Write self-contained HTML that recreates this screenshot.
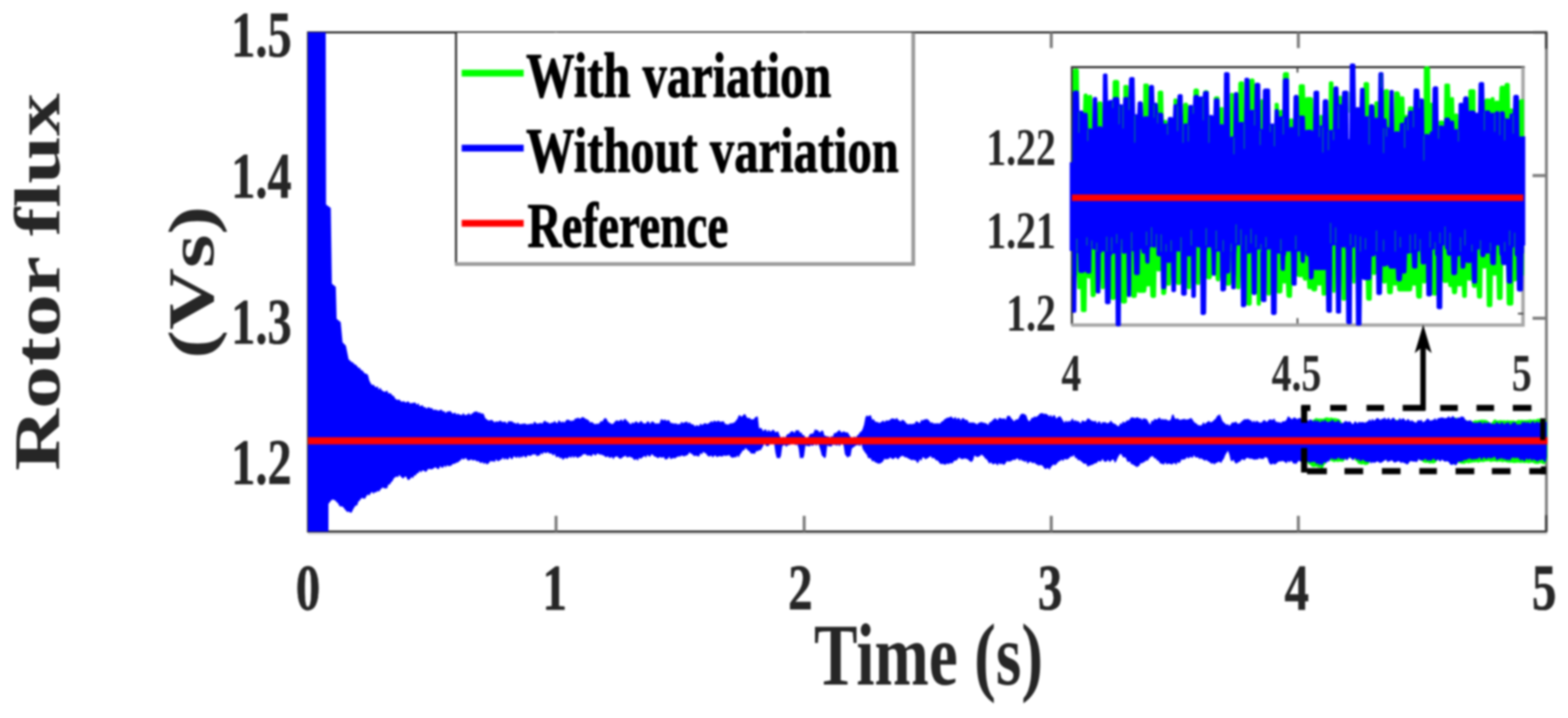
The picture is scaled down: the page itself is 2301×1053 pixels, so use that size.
<!DOCTYPE html>
<html lang="en"><head><meta charset="utf-8"><title>Rotor flux</title>
<style>html,body{margin:0;padding:0;background:#fff}svg{display:block}</style></head>
<body>
<svg width="2301" height="1053" viewBox="0 0 2301 1053" font-family="'Liberation Serif', 'Times New Roman', Times, serif">
<defs><filter id="soft" x="0" y="0" width="2301" height="1053" filterUnits="userSpaceOnUse" color-interpolation-filters="sRGB"><feGaussianBlur stdDeviation="1.4"/></filter></defs>
<rect width="2301" height="1053" fill="#fff"/>
<g filter="url(#soft)">
<rect width="2301" height="1053" fill="#fff"/>
<g fill="none" stroke-linecap="butt">
<path d="M450.5,47.5 H2270.5 M452.0,47.5 V779.5 M450.5,779.5 H2270.5" stroke="#2a2a2a" stroke-width="3"/>
<path d="M452.0,782.7 H2270.5" stroke="#dcdcdc" stroke-width="3"/>
<path d="M2269.3,47.5 V779.5" stroke="#777" stroke-width="4"/>
<path d="M816,779.5 v-23 M816,47.5 v23 M1180.1,779.5 v-23 M1180.1,47.5 v23 M1542.7,779.5 v-23 M1542.7,47.5 v23 M1905.3,779.5 v-23 M1905.3,47.5 v23 M452.0,257.5 h20 M2269.0,257.5 h-20 M452.0,466.8 h20 M2269.0,466.8 h-20 M452.0,676 h20 M2269.0,676 h-20 " stroke="#7c7c7c" stroke-width="4.4"/>
<path d="M2269.0,47.5 v24 M2270.5,47.5 h-21 M2269.0,779.5 v-24" stroke="#3a3a3a" stroke-width="3.4"/>
</g>
<rect x="669.2" y="48" width="671" height="339.5" fill="#fff"/>
<path d="M669.2,48 V389.5" stroke="#2a2a2a" stroke-width="3" fill="none"/>
<path d="M1340.2,48 V389.7 M668,387.2 H1343" stroke="#9a9a9a" stroke-width="5.5" fill="none"/>
<line x1="677.5" x2="768.5" y1="107.3" y2="107.3" stroke="#00ff00" stroke-width="10"/>
<line x1="677.5" x2="768.5" y1="217.3" y2="217.3" stroke="#0000ff" stroke-width="10"/>
<line x1="677.5" x2="768.5" y1="327.6" y2="327.6" stroke="#ff0000" stroke-width="10"/>
<text transform="translate(772,141.7) scale(0.758,1)" font-size="94" font-weight="bold" fill="#000" text-anchor="start" stroke="#000" stroke-width="1.4" stroke-linejoin="round">With variation</text>
<text transform="translate(772,252) scale(0.758,1)" font-size="94" font-weight="bold" fill="#000" text-anchor="start" stroke="#000" stroke-width="1.4" stroke-linejoin="round">Without variation</text>
<text transform="translate(774,362) scale(0.737,1)" font-size="94" font-weight="bold" fill="#000" text-anchor="start" stroke="#000" stroke-width="1.4" stroke-linejoin="round">Reference</text>
<path d="M1571.5,98.5 H2237.5 M1573.0,98.5 V476.5" stroke="#2a2a2a" stroke-width="3" fill="none"/>
<path d="M2235.0,98.5 V479.0 M1572.0,476.8 H2237.5" stroke="#a6a6a6" stroke-width="5" fill="none"/>
<path d="M1904,474.5 v-8 M1904,98.5 v8 M2235.5,216 h-8 M2235.5,338 h-8 M2235.5,460 h-8" stroke="#444" stroke-width="2.5" fill="none"/>
<path d="M1573.5,215 L1574.2,103 L1575,101.7 L1575.8,101 L1576.5,100.7 L1577.2,100.5 L1580.2,100.5 L1581,100.6 L1581.8,100.9 L1582.5,101.5 L1583.2,102.5 L1584,164.2 L1584.8,163.6 L1585.5,163.3 L1586.2,163.2 L1587,163.1 L1587.8,163.3 L1588.5,163.6 L1589.2,164.1 L1590,139.2 L1590.8,138.1 L1591.5,137.5 L1592.2,137.2 L1593,137 L1593.8,137.1 L1594.5,137.3 L1595.2,137.7 L1596,138.4 L1596.8,140.6 L1597.5,139.8 L1598.2,139.4 L1599,139.2 L1599.8,139.1 L1600.5,139.2 L1601.2,139.4 L1602,139.8 L1602.8,140.6 L1603.5,215 L1609.5,215 L1610.2,151.3 L1611,149.8 L1611.8,149.1 L1612.5,148.7 L1613.2,148.5 L1614.8,148.5 L1615.5,148.7 L1616.2,149 L1617,149.6 L1617.8,150.6 L1618.5,215 L1632,215 L1632.8,119.8 L1633.5,118.4 L1634.2,117.7 L1635,117.4 L1635.8,117.2 L1639.5,117.2 L1640.2,117.4 L1641,117.8 L1641.8,118.4 L1642.5,119.9 L1643.2,215 L1647.8,215 L1648.5,125.9 L1649.2,125.2 L1650,124.7 L1650.8,124.5 L1651.5,124.5 L1653,124.5 L1653.8,124.5 L1654.5,124.8 L1655.2,125.2 L1656,125.9 L1656.8,215 L1677,215 L1677.8,123.8 L1678.5,123.1 L1679.2,122.7 L1680,122.4 L1680.8,122.4 L1683,122.4 L1683.8,122.5 L1684.5,122.8 L1685.2,123.3 L1686,124.2 L1686.8,215 L1698,215 L1698.8,135 L1699.5,133.9 L1700.2,133.3 L1701,133 L1701.8,132.9 L1704,132.8 L1704.8,133 L1705.5,133.3 L1706.2,133.8 L1707,134.8 L1707.8,176.7 L1708.5,176.1 L1709.2,175.8 L1710,175.7 L1710.8,175.7 L1711.5,175.9 L1712.2,176.3 L1713,177.1 L1713.8,215 L1721.2,215 L1722,145.9 L1722.8,145.1 L1723.5,144.6 L1724.2,144.4 L1725,144.3 L1725.8,144.4 L1726.5,144.7 L1727.2,145.3 L1728,146.4 L1728.8,215 L1735.5,215 L1736.2,153 L1737,151.8 L1737.8,151.1 L1738.5,150.8 L1739.2,150.6 L1740.8,150.6 L1741.5,150.8 L1742.2,151.1 L1743,151.7 L1743.8,153 L1744.5,215 L1750.5,215 L1751.2,132.7 L1752,131 L1752.8,130.3 L1753.5,129.9 L1754.2,129.7 L1756.5,129.7 L1757.2,129.9 L1758,130.3 L1758.8,130.9 L1759.5,132.3 L1760.2,215 L1764.8,215 L1765.5,134.8 L1766.2,133.5 L1767,132.9 L1767.8,132.5 L1768.5,132.3 L1770.8,132.3 L1771.5,132.4 L1772.2,132.7 L1773,133.2 L1773.8,134.1 L1774.5,215 L1780.5,215 L1781.2,143.4 L1782,142.3 L1782.8,141.7 L1783.5,141.4 L1784.2,141.2 L1786.5,141.2 L1787.2,141.3 L1788,141.6 L1788.8,142.1 L1789.5,143.1 L1790.2,158 L1791,157.4 L1791.8,157 L1792.5,156.9 L1793.2,156.9 L1794,157.1 L1794.8,157.5 L1795.5,158.2 L1796.2,215 L1804.5,215 L1805.2,137.3 L1806,136.5 L1806.8,136.2 L1807.5,136 L1808.2,136 L1809,136.2 L1809.8,136.6 L1810.5,137.5 L1811.2,215 L1816.5,215 L1817.2,122.1 L1818,120.5 L1818.8,119.9 L1819.5,119.5 L1820.2,119.3 L1822.5,119.3 L1823.2,119.3 L1824,119.6 L1824.8,120 L1825.5,120.8 L1826.2,215 L1833,215 L1833.8,117 L1834.5,116 L1835.2,115.5 L1836,115.2 L1836.8,115.1 L1838.2,115.1 L1839,115.3 L1839.8,115.7 L1840.5,116.4 L1841.2,118.3 L1842,215 L1848.8,215 L1849.5,146.3 L1850.2,145.7 L1851,145.4 L1851.8,145.4 L1852.5,145.6 L1853.2,146.2 L1854,215 L1869.8,215 L1870.5,152.1 L1871.2,151.3 L1872,150.9 L1872.8,150.7 L1873.5,150.6 L1874.2,150.7 L1875,151 L1875.8,151.6 L1876.5,152.6 L1877.2,162.1 L1878,161.5 L1878.8,161.2 L1879.5,161.1 L1881,161.1 L1881.8,161.3 L1882.5,108.8 L1883.2,107 L1884,106.3 L1884.8,105.9 L1885.5,105.7 L1888.5,105.7 L1889.2,105.8 L1890,106.1 L1890.8,106.6 L1891.5,107.5 L1892.2,174.8 L1893,174.2 L1893.8,173.8 L1894.5,173.6 L1895.2,173.6 L1896,173.7 L1896.8,174 L1897.5,174.5 L1898.2,175.4 L1899,215 L1905,215 L1905.8,125.6 L1906.5,124.5 L1907.2,123.9 L1908,123.6 L1908.8,123.4 L1911.8,123.4 L1912.5,123.5 L1913.2,123.7 L1914,124.1 L1914.8,124.9 L1915.5,143.8 L1916.2,143 L1917,142.5 L1917.8,142.3 L1918.5,142.2 L1923.8,142.3 L1924.5,142.4 L1925.2,142.8 L1926,143.4 L1926.8,144.7 L1927.5,215 L1935.8,215 L1936.5,169.3 L1937.2,168.7 L1938,168.4 L1938.8,168.4 L1939.5,168.5 L1940.2,168.8 L1941,169.5 L1941.8,215 L1949.2,215 L1950,120.8 L1950.8,120 L1951.5,119.6 L1952.2,119.3 L1953,119.3 L1953.8,119.3 L1954.5,119.4 L1955.2,119.6 L1956,120.1 L1956.8,121 L1957.5,215 L1963.5,215 L1964.2,141.8 L1965,140.8 L1965.8,140.4 L1966.5,140.2 L1967.2,140.2 L1968,140.4 L1968.8,140.8 L1969.5,141.8 L1970.2,215 L2000.2,215 L2001,122.1 L2001.8,121.2 L2002.5,120.7 L2003.2,120.4 L2004,120.3 L2006.2,120.3 L2007,120.5 L2007.8,120.8 L2008.5,121.4 L2009.2,122.6 L2010,215 L2016,215 L2016.8,150.2 L2017.5,149.3 L2018.2,148.9 L2019,148.6 L2019.8,148.5 L2020.5,148.5 L2021.2,148.6 L2022,148.8 L2022.8,149.3 L2023.5,150.1 L2024.2,215 L2029.5,215 L2030.2,133.5 L2031,132 L2031.8,131.4 L2032.5,131 L2033.2,130.8 L2035.5,130.7 L2036.2,130.8 L2037,131.1 L2037.8,131.5 L2038.5,132.3 L2039.2,215 L2045.2,215 L2046,135.3 L2046.8,134.6 L2047.5,134.2 L2048.2,133.9 L2049,133.9 L2051.2,133.9 L2052,134.1 L2052.8,134.6 L2053.5,135.3 L2054.2,137.3 L2055,142 L2055.8,141.5 L2056.5,141.3 L2057.2,141.2 L2058,141.2 L2058.8,141.3 L2059.5,141.5 L2060.2,142 L2061,142.9 L2061.8,169.1 L2062.5,168.6 L2063.2,168.4 L2064,168.4 L2064.8,168.6 L2065.5,169.1 L2066.2,157.5 L2067,156.6 L2067.8,156.2 L2068.5,155.9 L2069.2,155.8 L2071.5,155.9 L2072.2,156 L2073,156.4 L2073.8,157.1 L2074.5,158.5 L2075.2,215 L2088.8,215 L2089.5,99.4 L2090.2,98.4 L2091,97.8 L2091.8,97.5 L2092.5,97.3 L2095.5,97.3 L2096.2,97.5 L2097,97.9 L2097.8,98.5 L2098.5,99.8 L2099.2,150.9 L2100,150.6 L2100.8,150.6 L2101.5,150.8 L2102.2,151.4 L2103,215 L2110.5,215 L2111.2,178.3 L2112,177.5 L2112.8,177 L2113.5,176.8 L2114.2,176.7 L2116.5,176.8 L2117.2,177 L2118,177.4 L2118.8,178 L2119.5,124.1 L2120.2,123.2 L2121,122.7 L2121.8,122.5 L2122.5,122.4 L2124.8,122.4 L2125.5,122.5 L2126.2,122.7 L2127,123.1 L2127.8,123.9 L2128.5,143.5 L2129.2,142.8 L2130,142.4 L2130.8,142.3 L2131.5,142.3 L2132.2,142.5 L2133,142.9 L2133.8,143.8 L2134.5,167.4 L2135.2,166.8 L2136,166.4 L2136.8,166.3 L2137.5,166.3 L2138.2,166.5 L2139,166.9 L2139.8,167.6 L2140.5,215 L2154,215 L2154.8,133 L2155.5,131.8 L2156.2,131.3 L2157,130.9 L2157.8,130.8 L2162.2,130.8 L2163,130.9 L2163.8,131.2 L2164.5,131.8 L2165.2,132.9 L2166,215 L2177.2,215 L2178,147.7 L2178.8,145.7 L2179.5,145 L2180.2,144.6 L2181,144.4 L2184,144.3 L2184.8,144.4 L2185.5,144.7 L2186.2,145.2 L2187,144.8 L2187.8,143.4 L2188.5,142.8 L2189.2,142.4 L2190,142.3 L2190.8,142.3 L2191.5,142.5 L2192.2,142.8 L2193,143.5 L2193.8,149.1 L2194.5,148.3 L2195.2,147.8 L2196,147.5 L2196.8,147.5 L2197.5,147.5 L2198.2,147.6 L2199,147.8 L2199.8,148.3 L2200.5,128.6 L2201.2,126.9 L2202,126.2 L2202.8,125.8 L2203.5,125.6 L2205,125.5 L2205.8,125.7 L2206.5,126 L2207.2,126.5 L2208,123.7 L2208.8,122.5 L2209.5,121.9 L2210.2,121.5 L2211,121.4 L2212.5,121.4 L2213.2,121.5 L2214,121.9 L2214.8,122.5 L2215.5,123.8 L2216.2,159.5 L2217,159.1 L2217.8,159 L2218.5,159 L2219.2,159.2 L2220,159.8 L2220.8,160.9 L2221.5,215 L2228.2,215 L2229,147.5 L2229.8,146.4 L2230.5,145.8 L2231.2,145.5 L2232,145.4 L2235,145.4 L2235.8,145.4 L2236.5,145.7 L2236.5,404 L2226.8,404 L2226,410.8 L2225.2,412 L2224.5,412.5 L2223.8,412.8 L2223,412.8 L2222.2,412.7 L2221.5,412.3 L2220.8,445.8 L2220,447.2 L2219.2,447.8 L2218.5,448.2 L2217.8,448.3 L2214,448.3 L2213.2,448.1 L2212.5,447.8 L2211.8,447.1 L2211,445.6 L2210.2,388 L2209.5,388.5 L2208.8,388.7 L2208,388.8 L2207.2,388.7 L2206.5,388.4 L2205.8,387.9 L2205,437.7 L2204.2,438.9 L2203.5,439.5 L2202.8,439.8 L2202,440 L2199.8,440 L2199,439.9 L2198.2,439.6 L2197.5,439.1 L2196.8,438.2 L2196,403.3 L2195.2,404 L2194.5,404.3 L2193.8,404.5 L2193,404.5 L2192.2,404.3 L2191.5,403.9 L2190.8,403.2 L2190,448.9 L2189.2,449.7 L2188.5,450.1 L2187.8,450.4 L2187,450.5 L2184.8,450.5 L2184,450.4 L2183.2,450.1 L2182.5,449.7 L2181.8,448.9 L2181,392.7 L2180.2,393.4 L2179.5,393.8 L2178.8,394 L2178,394 L2177.2,393.9 L2176.5,393.5 L2175.8,392.9 L2175,436.1 L2174.2,437 L2173.5,437.5 L2172.8,437.8 L2172,437.9 L2170.5,437.9 L2169.8,437.8 L2169,437.5 L2168.2,437 L2167.5,436.1 L2166.8,421 L2166,421.7 L2165.2,422 L2164.5,422.2 L2163,422.2 L2162.2,422.1 L2161.5,421.8 L2160.8,421.2 L2160,420.1 L2159.2,410.7 L2158.5,411.3 L2157.8,411.6 L2157,411.8 L2155.5,411.8 L2154.8,411.6 L2154,411.2 L2153.2,410.5 L2152.5,435.1 L2151.8,436 L2151,436.5 L2150.2,436.8 L2149.5,436.9 L2148.8,436.9 L2148,436.8 L2147.2,436.6 L2146.5,436.1 L2145.8,435.4 L2145,418.7 L2144.2,419.4 L2143.5,419.9 L2142.8,420.1 L2142,420.2 L2141.2,420.2 L2140.5,420 L2139.8,419.8 L2139,419.3 L2138.2,429 L2137.5,430.4 L2136.8,431.1 L2136,431.4 L2135.2,431.6 L2133.8,431.6 L2133,431.5 L2132.2,431.2 L2131.5,430.6 L2130.8,429.5 L2130,420.5 L2129.2,421 L2128.5,421.2 L2127.8,421.2 L2127,421 L2126.2,420.5 L2125.5,419.5 L2124.8,413.9 L2124,414.5 L2123.2,414.8 L2122.5,414.9 L2119.5,414.9 L2118.8,414.7 L2118,414.4 L2117.2,413.7 L2116.5,412.4 L2115.8,404 L2109.8,404 L2109,431 L2108.2,432.5 L2107.5,433.1 L2106.8,433.5 L2106,433.7 L2104.5,433.7 L2103.8,433.6 L2103,433.3 L2102.2,432.7 L2101.5,431.6 L2100.8,404 L2094,404 L2093.2,413.7 L2092.5,414.9 L2091.8,415.5 L2091,415.8 L2090.2,416 L2089.5,415.9 L2088.8,415.7 L2088,415.3 L2087.2,414.6 L2086.5,436.4 L2085.8,437.2 L2085,437.6 L2084.2,437.8 L2083.5,437.9 L2081.2,437.9 L2080.5,437.7 L2079.8,437.3 L2079,436.6 L2078.2,434.8 L2077.5,418.4 L2076.8,418.8 L2076,419.1 L2075.2,419.1 L2074.5,419 L2073.8,418.7 L2073,418.2 L2072.2,425.3 L2071.5,426.4 L2070.8,427 L2070,427.3 L2069.2,427.5 L2053.5,427.5 L2052.8,427.4 L2052,427.1 L2051.2,426.6 L2050.5,425.7 L2049.8,417.9 L2049,418.6 L2048.2,418.9 L2047.5,419.1 L2046.8,419.1 L2046,418.9 L2045.2,418.5 L2044.5,417.8 L2043.8,430 L2043,430.8 L2042.2,431.3 L2041.5,431.6 L2040.8,431.6 L2038.5,431.6 L2037.8,431.4 L2037,431.1 L2036.2,430.4 L2035.5,429 L2034.8,414.3 L2034,415.1 L2033.2,415.6 L2032.5,415.9 L2031.8,416 L2031,416 L2030.2,415.8 L2029.5,415.5 L2028.8,414.9 L2028,413.8 L2027.2,404 L2020.5,404 L2019.8,401.1 L2019,402.4 L2018.2,403 L2017.5,403.3 L2016.8,403.4 L2016,403.4 L2015.2,403.2 L2014.5,402.8 L2013.8,402 L2013,439.5 L2012.2,440.3 L2011.5,440.8 L2010.8,441 L2010,441 L2007.8,441 L2007,440.8 L2006.2,440.4 L2005.5,439.7 L2004.8,438 L2004,404 L1989.8,404 L1989,414.9 L1988.2,415.5 L1987.5,415.9 L1986.8,416 L1986,415.9 L1985.2,415.6 L1984.5,414.9 L1983.8,404 L1976.2,404 L1975.5,439.4 L1974.8,440.2 L1974,440.7 L1973.2,441 L1972.5,441 L1971.8,441 L1971,441 L1970.2,440.7 L1969.5,440.3 L1968.8,439.4 L1968,404 L1960.5,404 L1959.8,428.5 L1959,429.1 L1958.2,429.5 L1957.5,429.6 L1956.8,429.5 L1956,429.2 L1955.2,428.5 L1954.5,404 L1947,404 L1946.2,432.1 L1945.5,432.9 L1944.8,433.4 L1944,433.6 L1943.2,433.7 L1942.5,433.7 L1941.8,433.7 L1941,433.4 L1940.2,433 L1939.5,432.1 L1938.8,417.8 L1938,418.5 L1937.2,418.9 L1936.5,419.1 L1935.8,419.1 L1935,418.9 L1934.2,418.6 L1933.5,418 L1932.8,425.6 L1932,426.6 L1931.2,427.1 L1930.5,427.4 L1929.8,427.5 L1927.5,427.4 L1926.8,427.3 L1926,426.9 L1925.2,426.3 L1924.5,425.2 L1923.8,423.4 L1923,423.9 L1922.2,424.2 L1921.5,424.3 L1920.8,424.3 L1920,424 L1919.2,423.6 L1918.5,422.7 L1917.8,410.6 L1917,411.3 L1916.2,411.6 L1915.5,411.8 L1914.8,411.8 L1914,411.6 L1913.2,411.2 L1912.5,410.5 L1911.8,408.8 L1911,405.8 L1910.2,406.2 L1909.5,406.5 L1908.8,406.6 L1906.5,406.6 L1905.8,406.5 L1905,406.3 L1904.2,405.8 L1903.5,405 L1902.8,404 L1896.8,404 L1896,435.3 L1895.2,436.1 L1894.5,436.6 L1893.8,436.8 L1893,436.9 L1890.8,436.8 L1890,436.6 L1889.2,436.2 L1888.5,435.5 L1887.8,433.9 L1887,415.2 L1886.2,415.7 L1885.5,415.9 L1884.8,416 L1884,415.9 L1883.2,415.6 L1882.5,415 L1881.8,428.4 L1881,429.5 L1880.2,430.1 L1879.5,430.4 L1878.8,430.6 L1876.5,430.6 L1875.8,430.5 L1875,430.2 L1874.2,429.7 L1873.5,428.7 L1872.8,404 L1866,404 L1865.2,430.9 L1864.5,432.5 L1863.8,433.2 L1863,433.5 L1862.2,433.7 L1861.5,433.7 L1860.8,433.5 L1860,433.2 L1859.2,432.5 L1858.5,431 L1857.8,404 L1851,404 L1850.2,446.6 L1849.5,447.5 L1848.8,448 L1848,448.3 L1847.2,448.4 L1846.5,448.3 L1845.8,448 L1845,447.5 L1844.2,446.6 L1843.5,404 L1837.5,404 L1836.8,446.3 L1836,447.3 L1835.2,447.9 L1834.5,448.2 L1833.8,448.4 L1832.2,448.4 L1831.5,448.3 L1830.8,448 L1830,447.6 L1829.2,446.7 L1828.5,404 L1821,404 L1820.2,422.8 L1819.5,423.6 L1818.8,424 L1818,424.3 L1817.2,424.3 L1816.5,424.3 L1815.8,424.1 L1815,423.7 L1814.2,422.9 L1813.5,404 L1807.5,404 L1806.8,416.1 L1806,417.8 L1805.2,418.5 L1804.5,418.9 L1803.8,419.1 L1801.5,419.1 L1800.8,419 L1800,418.6 L1799.2,418.1 L1798.5,416.9 L1797.8,404 L1791,404 L1790.2,411.5 L1789.5,412.2 L1788.8,412.6 L1788,412.8 L1787.2,412.8 L1786.5,412.7 L1785.8,412.3 L1785,411.7 L1784.2,410.4 L1783.5,404 L1779,404 L1778.2,407.3 L1777.5,408.5 L1776.8,409.2 L1776,409.5 L1775.2,409.7 L1773,409.7 L1772.2,409.6 L1771.5,409.3 L1770.8,408.8 L1770,408 L1769.2,404 L1761.8,404 L1761,416.7 L1760.2,417.5 L1759.5,417.8 L1758.8,418 L1758,418 L1757.2,417.9 L1756.5,417.6 L1755.8,416.9 L1755,415.6 L1754.2,404 L1748.2,404 L1747.5,422.9 L1746.8,423.7 L1746,424.1 L1745.2,424.3 L1744.5,424.3 L1743.8,424.2 L1743,423.9 L1742.2,423.3 L1741.5,422.1 L1740.8,404 L1734,404 L1733.2,415.8 L1732.5,417 L1731.8,417.6 L1731,417.9 L1730.2,418 L1728.8,418 L1728,417.9 L1727.2,417.5 L1726.5,416.8 L1725.8,415.5 L1725,404 L1719,404 L1718.2,417.6 L1717.5,418.4 L1716.8,418.8 L1716,419 L1715.2,419.1 L1714.5,419.1 L1713.8,419 L1713,418.7 L1712.2,418.3 L1711.5,429.8 L1710.8,431.4 L1710,432.1 L1709.2,432.5 L1708.5,432.7 L1707,432.7 L1706.2,432.5 L1705.5,432.2 L1704.8,431.7 L1704,430.6 L1703.2,397.1 L1702.5,397.7 L1701.8,398 L1701,398.2 L1699.5,398.2 L1698.8,398 L1698,397.6 L1697.2,397 L1696.5,435 L1695.8,436 L1695,436.5 L1694.2,436.8 L1693.5,436.9 L1691.2,436.9 L1690.5,436.7 L1689.8,436.4 L1689,435.8 L1688.2,434.6 L1687.5,419.2 L1686.8,419.8 L1686,420 L1685.2,420.2 L1684.5,420.1 L1683.8,419.9 L1683,419.4 L1682.2,426.7 L1681.5,428.2 L1680.8,428.9 L1680,429.3 L1679.2,429.5 L1671.8,429.6 L1671,429.5 L1670.2,429.2 L1669.5,428.8 L1668.8,428 L1668,435.5 L1667.2,436.2 L1666.5,436.6 L1665.8,436.8 L1665,436.9 L1662.8,436.9 L1662,436.8 L1661.2,436.5 L1660.5,436 L1659.8,435.1 L1659,404 L1654.5,404 L1653.8,443.2 L1653,444.2 L1652.2,444.8 L1651.5,445.1 L1650.8,445.2 L1647.8,445.2 L1647,445 L1646.2,444.6 L1645.5,444 L1644.8,442.5 L1644,404 L1638,404 L1637.2,437.4 L1636.5,438.8 L1635.8,439.4 L1635,439.8 L1634.2,440 L1632.8,440 L1632,439.8 L1631.2,439.5 L1630.5,438.9 L1629.8,437.8 L1629,404 L1622.2,404 L1621.5,422.1 L1620.8,423.3 L1620,423.9 L1619.2,424.2 L1618.5,424.3 L1617.8,424.3 L1617,424.1 L1616.2,423.7 L1615.5,422.9 L1614.8,404 L1608.8,404 L1608,433.2 L1607.2,434.6 L1606.5,435.2 L1605.8,435.6 L1605,435.8 L1603.5,435.8 L1602.8,435.7 L1602,435.3 L1601.2,434.7 L1600.5,433.6 L1599.8,408 L1599,408.4 L1598.2,408.6 L1597.5,408.6 L1596.8,408.4 L1596,407.9 L1595.2,406.9 L1594.5,456.1 L1593.8,457 L1593,457.4 L1592.2,457.7 L1591.5,457.8 L1589.2,457.8 L1588.5,457.7 L1587.8,457.5 L1587,457 L1586.2,456.2 L1585.5,423.3 L1584.8,423.9 L1584,424.2 L1583.2,424.3 L1582.5,424.2 L1581.8,423.9 L1581,423.2 L1580.2,404 L1573.5,404Z" fill="#00ff00"/>
<path d="M1573.5,204 L1574.2,135.4 L1575,134.1 L1575.8,133.4 L1576.5,133 L1577.2,132.9 L1580.2,132.8 L1581,133 L1581.8,133.3 L1582.5,133.9 L1583.2,134.9 L1584,163.2 L1584.8,162.6 L1585.5,162.3 L1586.2,162.1 L1587,162.1 L1587.8,162.2 L1588.5,162.5 L1589.2,163.1 L1590,164.1 L1590.8,166.3 L1591.5,165.7 L1592.2,165.4 L1593,165.2 L1593.8,165.3 L1594.5,165.5 L1595.2,165.9 L1596,166.7 L1596.8,189.7 L1597.5,188.9 L1598.2,188.5 L1599,188.3 L1599.8,188.2 L1600.5,188.3 L1601.2,188.5 L1602,188.9 L1602.8,189.7 L1603.5,144.8 L1604.2,143.5 L1605,142.8 L1605.8,142.5 L1606.5,142.3 L1607.2,142.2 L1608,142.3 L1608.8,142.6 L1609.5,143.1 L1610.2,144 L1611,186.4 L1611.8,185.7 L1612.5,185.3 L1613.2,185.1 L1614.8,185.1 L1615.5,185.2 L1616.2,185.6 L1617,186.1 L1617.8,187.2 L1618.5,109.5 L1619.2,108.6 L1620,108.1 L1620.8,107.9 L1621.5,107.8 L1622.2,107.8 L1623,107.8 L1623.8,108.1 L1624.5,108.5 L1625.2,109.3 L1626,148.9 L1626.8,147.6 L1627.5,147 L1628.2,146.6 L1629,146.4 L1629.8,146.4 L1630.5,146.5 L1631.2,146.8 L1632,147.3 L1632.8,144.9 L1633.5,143.5 L1634.2,142.8 L1635,142.5 L1635.8,142.3 L1639.5,142.3 L1640.2,142.5 L1641,142.8 L1641.8,143.5 L1642.5,144.9 L1643.2,153.4 L1644,152.9 L1644.8,152.7 L1645.5,152.7 L1646.2,152.9 L1647,153.3 L1647.8,154 L1648.5,143.7 L1649.2,142.9 L1650,142.5 L1650.8,142.3 L1651.5,142.2 L1653,142.2 L1653.8,142.3 L1654.5,142.5 L1655.2,142.9 L1656,143.7 L1656.8,115.7 L1657.5,114.3 L1658.2,113.6 L1659,113.2 L1659.8,113 L1662,113 L1662.8,113.1 L1663.5,113.3 L1664.2,113.8 L1665,114.6 L1665.8,168 L1666.5,167.5 L1667.2,167.3 L1668,167.4 L1668.8,167.7 L1669.5,150.6 L1670.2,149.6 L1671,149 L1671.8,148.7 L1672.5,148.5 L1674,148.5 L1674.8,148.7 L1675.5,149.1 L1676.2,149.8 L1677,151.3 L1677.8,171.9 L1678.5,171.1 L1679.2,170.7 L1680,170.5 L1680.8,170.5 L1683,170.5 L1683.8,170.6 L1684.5,170.8 L1685.2,171.3 L1686,127.2 L1686.8,125.8 L1687.5,125.1 L1688.2,124.7 L1689,124.5 L1690.5,124.5 L1691.2,124.6 L1692,125 L1692.8,125.5 L1693.5,126.6 L1694.2,151.3 L1695,150.8 L1695.8,150.6 L1696.5,150.6 L1697.2,150.8 L1698,151.3 L1698.8,152.2 L1699.5,166.3 L1700.2,165.7 L1701,165.4 L1701.8,165.2 L1704,165.2 L1704.8,165.4 L1705.5,165.7 L1706.2,166.2 L1707,167.2 L1707.8,182 L1708.5,181.4 L1709.2,181 L1710,180.9 L1710.8,180.9 L1711.5,181.1 L1712.2,181.6 L1713,182.3 L1713.8,173 L1714.5,172.2 L1715.2,171.8 L1716,171.6 L1716.8,171.5 L1719,171.5 L1719.8,171.7 L1720.5,172.2 L1721.2,172.9 L1722,154.2 L1722.8,153.4 L1723.5,153 L1724.2,152.7 L1725,152.7 L1725.8,152.8 L1726.5,153.1 L1727.2,153.7 L1728,140.2 L1728.8,139.1 L1729.5,138.5 L1730.2,138.2 L1731,138.1 L1732.5,138.1 L1733.2,138.1 L1734,138.4 L1734.8,138.8 L1735.5,139.6 L1736.2,183.3 L1737,182.1 L1737.8,181.4 L1738.5,181.1 L1739.2,180.9 L1740.8,180.9 L1741.5,181.1 L1742.2,181.4 L1743,182 L1743.8,155.7 L1744.5,154.7 L1745.2,154.2 L1746,153.9 L1746.8,153.7 L1748.2,153.8 L1749,154 L1749.8,154.4 L1750.5,155.1 L1751.2,142.1 L1752,140.4 L1752.8,139.8 L1753.5,139.4 L1754.2,139.2 L1756.5,139.1 L1757.2,139.3 L1758,139.7 L1758.8,140.3 L1759.5,141.7 L1760.2,142 L1761,141.5 L1761.8,141.3 L1762.5,141.2 L1763.2,141.3 L1764,141.6 L1764.8,142.1 L1765.5,135.8 L1766.2,134.5 L1767,133.9 L1767.8,133.6 L1768.5,133.4 L1770.8,133.4 L1771.5,133.5 L1772.2,133.7 L1773,134.2 L1773.8,135.1 L1774.5,169.7 L1775.2,169 L1776,168.6 L1776.8,168.4 L1777.5,168.4 L1778.2,168.5 L1779,168.7 L1779.8,169.2 L1780.5,170 L1781.2,146.6 L1782,145.4 L1782.8,144.8 L1783.5,144.5 L1784.2,144.3 L1786.5,144.3 L1787.2,144.4 L1788,144.7 L1788.8,145.3 L1789.5,146.2 L1790.2,183.1 L1791,182.4 L1791.8,182.1 L1792.5,182 L1793.2,182 L1794,182.2 L1794.8,182.6 L1795.5,183.3 L1796.2,107.2 L1797,106.4 L1797.8,106 L1798.5,105.7 L1799.2,105.7 L1801.5,105.7 L1802.2,105.9 L1803,106.2 L1803.8,106.8 L1804.5,108.1 L1805.2,201.3 L1806,200.6 L1806.8,200.2 L1807.5,200 L1808.2,200.1 L1809,200.3 L1809.8,200.7 L1810.5,137.6 L1811.2,136.2 L1812,135.5 L1812.8,135.1 L1813.5,135 L1814.2,134.9 L1815,135 L1815.8,135.3 L1816.5,135.8 L1817.2,136.7 L1818,180.1 L1818.8,179.4 L1819.5,179 L1820.2,178.8 L1822.5,178.8 L1823.2,178.9 L1824,179.1 L1824.8,179.6 L1825.5,180.4 L1826.2,115.5 L1827,114.7 L1827.8,114.3 L1828.5,114.1 L1829.2,114 L1830.8,114.1 L1831.5,114.2 L1832.2,114.6 L1833,115.2 L1833.8,116.4 L1834.5,162 L1835.2,161.5 L1836,161.2 L1836.8,161.1 L1838.2,161.1 L1839,161.3 L1839.8,161.7 L1840.5,162.4 L1841.2,123 L1842,122.2 L1842.8,121.7 L1843.5,121.4 L1844.2,121.3 L1846.5,121.4 L1847.2,121.6 L1848,121.9 L1848.8,122.6 L1849.5,124 L1850.2,189.6 L1851,189.3 L1851.8,189.3 L1852.5,189.5 L1853.2,132.8 L1854,131.1 L1854.8,130.4 L1855.5,130 L1856.2,129.7 L1860.8,129.7 L1861.5,129.8 L1862.2,130.1 L1863,130.6 L1863.8,131.5 L1864.5,182.1 L1865.2,181.4 L1866,181.1 L1866.8,180.9 L1867.5,180.9 L1868.2,181.1 L1869,181.5 L1869.8,182.2 L1870.5,161.5 L1871.2,160.7 L1872,160.3 L1872.8,160.1 L1873.5,160 L1874.2,160.1 L1875,160.4 L1875.8,161 L1876.5,162 L1877.2,171.5 L1878,170.9 L1878.8,170.6 L1879.5,170.5 L1881,170.5 L1881.8,170.7 L1882.5,117.7 L1883.2,115.9 L1884,115.2 L1884.8,114.8 L1885.5,114.6 L1888.5,114.6 L1889.2,114.7 L1890,115 L1890.8,115.5 L1891.5,116.4 L1892.2,187.3 L1893,186.7 L1893.8,186.3 L1894.5,186.2 L1895.2,186.1 L1896,186.2 L1896.8,186.5 L1897.5,187 L1898.2,141.8 L1899,140.4 L1899.8,139.7 L1900.5,139.3 L1901.2,139.1 L1902.8,139.1 L1903.5,139.3 L1904.2,139.6 L1905,140.2 L1905.8,141.3 L1906.5,170.5 L1907.2,169.9 L1908,169.6 L1908.8,169.4 L1911.8,169.4 L1912.5,169.5 L1913.2,169.7 L1914,170.1 L1914.8,170.9 L1915.5,191.9 L1916.2,191.1 L1917,190.6 L1917.8,190.4 L1918.5,190.3 L1923.8,190.3 L1924.5,190.5 L1925.2,190.8 L1926,191.5 L1926.8,192.7 L1927.5,135.6 L1928.2,134.1 L1929,133.4 L1929.8,133.1 L1930.5,132.9 L1932.8,132.8 L1933.5,132.9 L1934.2,133.2 L1935,133.6 L1935.8,134.4 L1936.5,185 L1937.2,184.4 L1938,184.1 L1938.8,184 L1939.5,184.2 L1940.2,184.5 L1941,148.6 L1941.8,146.7 L1942.5,146 L1943.2,145.6 L1944,145.4 L1946.2,145.4 L1947,145.6 L1947.8,145.9 L1948.5,146.6 L1949.2,147.9 L1950,191.8 L1950.8,191 L1951.5,190.6 L1952.2,190.4 L1953,190.3 L1953.8,190.3 L1954.5,190.4 L1955.2,190.7 L1956,191.2 L1956.8,129.3 L1957.5,127.8 L1958.2,127.2 L1959,126.8 L1959.8,126.6 L1961.2,126.6 L1962,126.7 L1962.8,127 L1963.5,127.6 L1964.2,128.7 L1965,153.4 L1965.8,152.9 L1966.5,152.7 L1967.2,152.7 L1968,152.9 L1968.8,153.4 L1969.5,135 L1970.2,133.9 L1971,133.3 L1971.8,133 L1972.5,132.9 L1975.5,132.8 L1976.2,132.9 L1977,133.1 L1977.8,133.6 L1978.5,134.3 L1979.2,204 L1980,204 L1980.8,94.8 L1981.5,93.9 L1982.2,93.5 L1983,93.2 L1983.8,93.1 L1986,93.1 L1986.8,93.2 L1987.5,93.4 L1988.2,93.9 L1989,94.7 L1989.8,158.2 L1990.5,157.5 L1991.2,157.1 L1992,156.9 L1992.8,156.9 L1993.5,157 L1994.2,157.4 L1995,158 L1995.8,130.5 L1996.5,129.6 L1997.2,129.1 L1998,128.8 L1998.8,128.7 L1999.5,128.7 L2000.2,128.7 L2001,128.9 L2001.8,129.4 L2002.5,130.1 L2003.2,170.6 L2004,170.5 L2006.2,170.5 L2007,170.6 L2007.8,171 L2008.5,171.6 L2009.2,154.7 L2010,153.7 L2010.8,153.1 L2011.5,152.8 L2012.2,152.7 L2013.8,152.7 L2014.5,152.9 L2015.2,153.3 L2016,154 L2016.8,155.7 L2017.5,173.4 L2018.2,172.9 L2019,172.6 L2019.8,172.5 L2020.5,172.5 L2021.2,172.6 L2022,172.9 L2022.8,107.9 L2023.5,106.8 L2024.2,106.2 L2025,105.8 L2025.8,105.7 L2027.2,105.7 L2028,105.7 L2028.8,106 L2029.5,106.4 L2030.2,107.2 L2031,174.4 L2031.8,173.8 L2032.5,173.6 L2033.2,173.6 L2034,173.9 L2034.8,174.5 L2035.5,186.1 L2036.2,186.2 L2037,186.4 L2037.8,186.9 L2038.5,187.7 L2039.2,133.2 L2040,132.5 L2040.8,132.1 L2041.5,131.8 L2042.2,131.8 L2043,131.9 L2043.8,132.1 L2044.5,132.5 L2045.2,133.3 L2046,193.9 L2046.8,193.1 L2047.5,192.7 L2048.2,192.5 L2049,192.4 L2051.2,192.4 L2052,192.7 L2052.8,193.1 L2053.5,193.8 L2054.2,181.5 L2055,180.7 L2055.8,180.2 L2056.5,179.9 L2057.2,179.9 L2058,179.9 L2058.8,179.9 L2059.5,180.2 L2060.2,180.7 L2061,173.8 L2061.8,172.3 L2062.5,171.7 L2063.2,171.5 L2064,171.5 L2064.8,171.7 L2065.5,172.3 L2066.2,163.7 L2067,162.9 L2067.8,162.4 L2068.5,162.2 L2069.2,162.1 L2071.5,162.1 L2072.2,162.3 L2073,162.7 L2073.8,163.3 L2074.5,131.5 L2075.2,130.6 L2076,130.1 L2076.8,129.8 L2077.5,129.7 L2079.8,129.7 L2080.5,129.9 L2081.2,130.2 L2082,130.8 L2082.8,132 L2083.5,145.3 L2084.2,144.8 L2085,144.5 L2085.8,144.3 L2086.5,144.3 L2087.2,144.5 L2088,144.8 L2088.8,145.4 L2089.5,146.5 L2090.2,197.6 L2091,197 L2091.8,196.7 L2092.5,196.6 L2095.5,196.6 L2096.2,196.8 L2097,197.1 L2097.8,197.8 L2098.5,193.4 L2099.2,192.7 L2100,192.4 L2100.8,192.4 L2101.5,192.6 L2102.2,129.9 L2103,128 L2103.8,127.2 L2104.5,126.8 L2105.2,126.6 L2107.5,126.6 L2108.2,126.6 L2109,126.9 L2109.8,127.3 L2110.5,128 L2111.2,185.6 L2112,184.8 L2112.8,184.3 L2113.5,184.1 L2114.2,184 L2116.5,184.1 L2117.2,184.3 L2118,184.7 L2118.8,185.4 L2119.5,174.2 L2120.2,173.4 L2121,172.9 L2121.8,172.6 L2122.5,172.5 L2124.8,172.5 L2125.5,172.6 L2126.2,172.8 L2127,173.3 L2127.8,174 L2128.5,178 L2129.2,177.3 L2130,176.9 L2130.8,176.7 L2131.5,176.8 L2132.2,177 L2133,177.4 L2133.8,178.3 L2134.5,190.4 L2135.2,189.8 L2136,189.4 L2136.8,189.3 L2137.5,189.3 L2138.2,189.5 L2139,189.9 L2139.8,190.6 L2140.5,152.1 L2141.2,151.4 L2142,150.9 L2142.8,150.7 L2143.5,150.6 L2144.2,150.6 L2145,150.7 L2145.8,151 L2146.5,151.5 L2147.2,144 L2148,142.5 L2148.8,141.8 L2149.5,141.4 L2150.2,141.2 L2151.8,141.2 L2152.5,141.3 L2153.2,141.7 L2154,142.2 L2154.8,143.3 L2155.5,163.2 L2156.2,162.6 L2157,162.3 L2157.8,162.1 L2162.2,162.1 L2163,162.3 L2163.8,162.6 L2164.5,163.2 L2165.2,164.3 L2166,165.8 L2166.8,165.4 L2167.5,165.2 L2168.2,165.3 L2169,165.6 L2169.8,123 L2170.5,121.6 L2171.2,120.9 L2172,120.5 L2172.8,120.3 L2175,120.3 L2175.8,120.4 L2176.5,120.6 L2177.2,121.1 L2178,121.9 L2178.8,163.5 L2179.5,162.8 L2180.2,162.4 L2181,162.1 L2184,162.1 L2184.8,162.2 L2185.5,162.5 L2186.2,163 L2187,163.9 L2187.8,166.4 L2188.5,165.7 L2189.2,165.4 L2190,165.2 L2190.8,165.3 L2191.5,165.4 L2192.2,165.8 L2193,166.5 L2193.8,164.7 L2194.5,163.9 L2195.2,163.5 L2196,163.2 L2196.8,163.1 L2197.5,163.1 L2198.2,163.2 L2199,163.5 L2199.8,164 L2200.5,164.8 L2201.2,164.5 L2202,163.8 L2202.8,163.4 L2203.5,163.2 L2205,163.1 L2205.8,163.3 L2206.5,163.6 L2207.2,164.1 L2208,165.1 L2208.8,174.7 L2209.5,174.1 L2210.2,173.8 L2211,173.6 L2212.5,173.6 L2213.2,173.8 L2214,174.1 L2214.8,174.8 L2215.5,167.7 L2216.2,166.9 L2217,166.4 L2217.8,166.3 L2218.5,166.3 L2219.2,166.6 L2220,167.1 L2220.8,141 L2221.5,140 L2222.2,139.5 L2223,139.2 L2223.8,139.1 L2226,139.1 L2226.8,139.3 L2227.5,139.6 L2228.2,140.2 L2229,141.3 L2229.8,201 L2230.5,200.5 L2231.2,200.2 L2232,200 L2235,200 L2235.8,200.1 L2236.5,200.3 L2236.5,371.3 L2235.8,371.7 L2235,425.8 L2234.2,426.6 L2233.5,427.1 L2232.8,427.4 L2232,427.5 L2229,427.5 L2228.2,427.4 L2227.5,427.1 L2226.8,426.6 L2226,425.6 L2225.2,375.9 L2224.5,375.7 L2223.8,375.2 L2223,374.4 L2222.2,362 L2221.5,362.6 L2220.8,362.9 L2220,363 L2219.2,414.4 L2218.5,415.2 L2217.8,415.7 L2217,415.9 L2216.2,416 L2214,415.9 L2213.2,415.7 L2212.5,415.4 L2211.8,414.7 L2211,413.2 L2210.2,387.9 L2209.5,388.4 L2208.8,388.7 L2208,388.8 L2205.8,388.8 L2205,388.6 L2204.2,388.3 L2203.5,387.6 L2202.8,386.4 L2202,375.3 L2201.2,374.6 L2200.5,372.4 L2199.8,359.5 L2199,359.8 L2198.2,360 L2196.8,360 L2196,359.9 L2195.2,387.2 L2194.5,388 L2193.8,388.5 L2193,388.7 L2192.2,388.8 L2190,388.8 L2189.2,388.6 L2188.5,388.2 L2187.8,387.6 L2187,386.1 L2186.2,370.5 L2185.5,371.2 L2184.8,371.7 L2184,371.9 L2183.2,372 L2181.8,372 L2181,371.8 L2180.2,371.4 L2179.5,375.8 L2178.8,376.6 L2178,377 L2177.2,377.2 L2176.5,377.3 L2175.8,377.3 L2175,377.2 L2174.2,376.9 L2173.5,376.4 L2172.8,375.5 L2172,370.5 L2171.2,364.9 L2170.5,365.5 L2169.8,365.8 L2169,366 L2168.2,366 L2167.5,414.4 L2166.8,415.2 L2166,415.7 L2165.2,415.9 L2164.5,416 L2163,416 L2162.2,415.8 L2161.5,415.5 L2160.8,414.9 L2160,413.8 L2159.2,384.6 L2158.5,385.2 L2157.8,385.5 L2157,385.7 L2154,385.7 L2153.2,385.6 L2152.5,385.4 L2151.8,385 L2151,384.2 L2150.2,392.5 L2149.5,393.3 L2148.8,393.7 L2148,394 L2147.2,394 L2146.5,394 L2145.8,393.9 L2145,393.7 L2144.2,393.2 L2143.5,392.3 L2142.8,374.5 L2142,375 L2141.2,375.5 L2140.5,375.9 L2139.8,376 L2139,376 L2138.2,400.7 L2137.5,402.2 L2136.8,402.8 L2136,403.2 L2135.2,403.4 L2133,403.4 L2132.2,403.4 L2131.5,403.1 L2130.8,402.6 L2130,401.8 L2129.2,373.9 L2128.5,374.6 L2127.8,375 L2127,375.2 L2126.2,375.2 L2125.5,375.1 L2124.8,374.7 L2124,374.1 L2123.2,372.7 L2122.5,365.8 L2121.8,365.4 L2121,364.7 L2120.2,363 L2119.5,359.5 L2118.8,359.8 L2118,360 L2117.2,360 L2116.5,451.7 L2115.8,452.7 L2115,453.2 L2114.2,453.5 L2113.5,453.6 L2111.2,453.6 L2110.5,453.4 L2109.8,453.1 L2109,452.5 L2108.2,451.3 L2107.5,375.6 L2106.8,375 L2106,374 L2105.2,365.2 L2104.5,365.7 L2103.8,365.9 L2103,366 L2102.2,366 L2101.5,432.6 L2100.8,433.7 L2100,434.3 L2099.2,434.6 L2098.5,434.8 L2096.2,434.8 L2095.5,434.7 L2094.8,434.4 L2094,433.8 L2093.2,432.9 L2092.5,386.6 L2091.8,387.2 L2091,387.6 L2090.2,387.7 L2088,387.8 L2087.2,387.7 L2086.5,387.4 L2085.8,386.9 L2085,386 L2084.2,370.3 L2083.5,368.1 L2082.8,368.6 L2082,368.9 L2081.2,369 L2080.5,369 L2079.8,392.5 L2079,393.3 L2078.2,393.7 L2077.5,394 L2076.8,394 L2075.2,394 L2074.5,393.9 L2073.8,393.6 L2073,393 L2072.2,391.9 L2071.5,371.8 L2070.8,371.4 L2070,370.8 L2069.2,370.7 L2068.5,371.4 L2067.8,371.8 L2067,372 L2065.5,372 L2064.8,371.9 L2064,398.9 L2063.2,400.2 L2062.5,400.8 L2061.8,401.2 L2061,401.3 L2060.2,401.3 L2059.5,401.2 L2058.8,400.9 L2058,400.4 L2057.2,410.2 L2056.5,411.6 L2055.8,412.3 L2055,412.6 L2054.2,412.8 L2052,412.8 L2051.2,412.6 L2050.5,412.2 L2049.8,411.5 L2049,409.8 L2048.2,393.2 L2047.5,393.7 L2046.8,393.9 L2046,394 L2040.8,394 L2040,393.9 L2039.2,393.5 L2038.5,393 L2037.8,391.8 L2037,388.8 L2036.2,389.4 L2035.5,389.7 L2034.8,389.8 L2034,390.1 L2033.2,390.5 L2032.5,390.8 L2031.8,390.9 L2031,390.9 L2030.2,390.7 L2029.5,390.4 L2028.8,389.8 L2028,430.5 L2027.2,431.6 L2026.5,432.2 L2025.8,432.5 L2025,432.7 L2022.8,432.7 L2022,432.6 L2021.2,432.3 L2020.5,431.7 L2019.8,430.8 L2019,372.4 L2018.2,374.6 L2017.5,375.3 L2016.8,375.7 L2016,375.9 L2015.2,376 L2013.8,376 L2013,375.8 L2012.2,408.8 L2011.5,409.8 L2010.8,410.3 L2010,410.6 L2009.2,410.7 L2001.8,410.7 L2001,410.6 L2000.2,410.3 L1999.5,409.7 L1998.8,408.6 L1998,475.9 L1997.2,476.8 L1996.5,477.3 L1995.8,477.5 L1995,477.6 L1992.8,477.6 L1992,477.6 L1991.2,477.3 L1990.5,476.9 L1989.8,476.2 L1989,363.6 L1988.2,362.4 L1987.5,362.8 L1986.8,363 L1985.2,363 L1984.5,362.9 L1983.8,474 L1983,474.8 L1982.2,475.2 L1981.5,475.5 L1980.8,475.5 L1978.5,475.5 L1977.8,475.3 L1977,474.9 L1976.2,474.2 L1975.5,472.5 L1974.8,367.3 L1974,362.1 L1973.2,362.6 L1972.5,362.9 L1971.8,363 L1970.2,363 L1969.5,362.9 L1968.8,362.5 L1968,458.4 L1967.2,459.2 L1966.5,459.6 L1965.8,459.8 L1965,459.9 L1963.5,459.9 L1962.8,459.8 L1962,459.6 L1961.2,459.2 L1960.5,458.4 L1959.8,358.7 L1959,359.4 L1958.2,359.8 L1957.5,360 L1956,360 L1955.2,359.9 L1954.5,457.3 L1953.8,458.1 L1953,458.5 L1952.2,458.7 L1951.5,458.8 L1949.2,458.8 L1948.5,458.6 L1947.8,458.2 L1947,457.5 L1946.2,455.8 L1945.5,395.3 L1944.8,395.8 L1944,396 L1943.2,396.1 L1930.5,396.1 L1929.8,395.9 L1929,395.5 L1928.2,394.9 L1927.5,407.9 L1926.8,408.8 L1926,409.3 L1925.2,409.6 L1924.5,409.7 L1923.8,409.7 L1923,409.6 L1922.2,409.4 L1921.5,409 L1920.8,408.2 L1920,376 L1919.2,376 L1918.5,375.9 L1917.8,375.6 L1917,375.1 L1916.2,374.1 L1915.5,368.2 L1914.8,384.3 L1914,385 L1913.2,385.4 L1912.5,385.6 L1911.8,385.7 L1911,385.5 L1910.2,385.2 L1909.5,384.6 L1908.8,383.3 L1908,368.3 L1907.2,368.7 L1906.5,368.9 L1905.8,369 L1904.2,369 L1903.5,368.8 L1902.8,417.6 L1902,418.4 L1901.2,418.8 L1900.5,419 L1899.8,419.1 L1898.2,419.1 L1897.5,418.9 L1896.8,418.6 L1896,418 L1895.2,416.8 L1894.5,374.4 L1893.8,368 L1893,368.6 L1892.2,368.9 L1891.5,369 L1890,369 L1889.2,368.9 L1888.5,368.6 L1887.8,368 L1887,374.4 L1886.2,375.2 L1885.5,395.8 L1884.8,396.5 L1884,396.9 L1883.2,397.1 L1882.5,397.2 L1881.8,397 L1881,396.7 L1880.2,396.1 L1879.5,394.8 L1878.8,371.4 L1878,371.8 L1877.2,372 L1875.8,372 L1875,371.9 L1874.2,371.7 L1873.5,459.4 L1872.8,460.7 L1872,461.4 L1871.2,461.7 L1870.5,461.9 L1868.2,461.9 L1867.5,461.9 L1866.8,461.6 L1866,461.1 L1865.2,460.3 L1864.5,365.1 L1863.8,365.6 L1863,365.9 L1862.2,366 L1860.8,366 L1860,365.9 L1859.2,365.5 L1858.5,441.4 L1857.8,442.3 L1857,442.8 L1856.2,443 L1855.5,443.1 L1853.2,443.1 L1852.5,442.9 L1851.8,442.6 L1851,441.9 L1850.2,440.6 L1849.5,365.4 L1848.8,365.8 L1848,366 L1846.5,366 L1845.8,365.9 L1845,365.7 L1844.2,430.1 L1843.5,431.5 L1842.8,432.1 L1842,432.5 L1841.2,432.7 L1839.8,432.7 L1839,432.5 L1838.2,432.2 L1837.5,431.6 L1836.8,430.4 L1836,370.2 L1835.2,371.1 L1834.5,371.6 L1833.8,371.9 L1833,372 L1831.5,372 L1830.8,371.8 L1830,371.5 L1829.2,447.1 L1828.5,449.1 L1827.8,449.8 L1827,450.2 L1826.2,450.4 L1824,450.5 L1823.2,450.4 L1822.5,450.2 L1821.8,449.7 L1821,449 L1820.2,359.4 L1819.5,359.8 L1818.8,360 L1817.2,360 L1816.5,359.9 L1815.8,359.7 L1815,359.2 L1814.2,373.9 L1813.5,422.7 L1812.8,423.5 L1812,424 L1811.2,424.3 L1810.5,424.3 L1809.8,424.3 L1809,424.2 L1808.2,424 L1807.5,423.5 L1806.8,422.7 L1806,359.2 L1805.2,398.4 L1804.5,400 L1803.8,400.7 L1803,401.1 L1802.2,401.3 L1801.5,401.3 L1800.8,401.2 L1800,400.9 L1799.2,425.1 L1798.5,426 L1797.8,426.4 L1797,427 L1796.2,427.3 L1795.5,427.5 L1794,427.5 L1793.2,427.4 L1792.5,427.1 L1791.8,426.7 L1791,425.9 L1790.2,368.8 L1789.5,369 L1788,369 L1787.2,368.9 L1786.5,368.7 L1785.8,368.2 L1785,370 L1784.2,402.8 L1783.5,403.7 L1782.8,404.2 L1782,404.4 L1781.2,404.5 L1780.5,404.4 L1779.8,404.1 L1779,403.6 L1778.2,402.7 L1777.5,370 L1776.8,362.2 L1776,362.7 L1775.2,362.9 L1774.5,363 L1773,363 L1772.2,362.8 L1771.5,362.5 L1770.8,373 L1770,459.1 L1769.2,460.7 L1768.5,461.3 L1767.8,461.7 L1767,461.9 L1764.8,461.9 L1764,461.9 L1763.2,461.6 L1762.5,461.2 L1761.8,460.4 L1761,362.8 L1760.2,363 L1758.8,363 L1758,362.9 L1757.2,362.6 L1756.5,362.2 L1755.8,361.3 L1755,435 L1754.2,436 L1753.5,436.5 L1752.8,436.8 L1752,436.9 L1751.2,436.9 L1750.5,436.8 L1749.8,436.6 L1749,436.2 L1748.2,435.4 L1747.5,375.2 L1746.8,375.7 L1746,375.9 L1745.2,376 L1743.8,376 L1743,375.8 L1742.2,375.4 L1741.5,431.7 L1740.8,432.8 L1740,433.3 L1739.2,433.6 L1738.5,433.7 L1736.2,433.7 L1735.5,433.6 L1734.8,433.3 L1734,432.7 L1733.2,431.6 L1732.5,368.5 L1731.8,368.8 L1731,369 L1729.5,369 L1728.8,368.9 L1728,368.6 L1727.2,368.1 L1726.5,370.2 L1725.8,426.7 L1725,427.6 L1724.2,428.1 L1723.5,428.4 L1722.8,428.5 L1722,428.5 L1721.2,428.5 L1720.5,428.2 L1719.8,427.8 L1719,427.1 L1718.2,384.1 L1717.5,384.9 L1716.8,385.4 L1716,385.6 L1715.2,385.7 L1714.5,385.7 L1713.8,385.6 L1713,385.3 L1712.2,384.8 L1711.5,421.5 L1710.8,423 L1710,423.7 L1709.2,424.1 L1708.5,424.3 L1707,424.3 L1706.2,424.2 L1705.5,423.9 L1704.8,423.3 L1704,422.3 L1703.2,375.5 L1702.5,375.9 L1701.8,376 L1700.2,376 L1699.5,375.9 L1698.8,375.6 L1698,375.1 L1697.2,374.1 L1696.5,362.2 L1695.8,362.6 L1695,362.9 L1694.2,363 L1692.8,363 L1692,362.8 L1691.2,362.5 L1690.5,361.9 L1689.8,361.6 L1689,362.3 L1688.2,362.7 L1687.5,362.9 L1686.8,384.8 L1686,385.9 L1685.2,386.4 L1684.5,386.7 L1683.8,386.7 L1683,386.6 L1682.2,386.3 L1681.5,385.7 L1680.8,384.2 L1680,372 L1678.5,372 L1677.8,371.9 L1677,371.7 L1676.2,371.2 L1675.5,370.4 L1674.8,365 L1674,365.6 L1673.2,365.9 L1672.5,401.5 L1671.8,402.5 L1671,403 L1670.2,403.3 L1669.5,403.4 L1667.2,403.4 L1666.5,403.3 L1665.8,402.9 L1665,402.4 L1664.2,401.3 L1663.5,369 L1662.8,368.8 L1662,368.5 L1661.2,367.8 L1660.5,366.6 L1659.8,433.5 L1659,434.8 L1658.2,435.4 L1657.5,435.7 L1656.8,435.8 L1656,435.8 L1655.2,435.5 L1654.5,435 L1653.8,433.9 L1653,370.9 L1652.2,371.5 L1651.5,371.8 L1650.8,372 L1649.2,372 L1648.5,371.9 L1647.8,371.6 L1647,371.2 L1646.2,370.3 L1645.5,359.1 L1644.8,476.9 L1644,477.8 L1643.2,478.3 L1642.5,478.6 L1641.8,478.7 L1640.2,478.7 L1639.5,478.6 L1638.8,478.3 L1638,477.8 L1637.2,476.8 L1636.5,371.9 L1635.8,372 L1634.2,372 L1633.5,371.8 L1632.8,371.4 L1632,373.2 L1631.2,374.7 L1630.5,375.4 L1629.8,444.2 L1629,445.2 L1628.2,445.8 L1627.5,446.1 L1626.8,446.3 L1624.5,446.3 L1623.8,446.1 L1623,445.8 L1622.2,445.3 L1621.5,444.3 L1620.8,369 L1620,369 L1619.2,368.9 L1618.5,368.6 L1617.8,368.1 L1617,370.2 L1616.2,371.1 L1615.5,371.6 L1614.8,429.1 L1614,429.9 L1613.2,430.3 L1612.5,430.5 L1611.8,430.6 L1611,430.6 L1610.2,430.5 L1609.5,430.2 L1608.8,429.7 L1608,428.8 L1607.2,365.9 L1606.5,366 L1605,366 L1604.2,365.8 L1603.5,365.4 L1602.8,364.7 L1602,363.2 L1601.2,399.8 L1600.5,400.6 L1599.8,401 L1599,401.3 L1598.2,401.3 L1596,401.3 L1595.2,401.1 L1594.5,400.7 L1593.8,400.1 L1593,398.5 L1592.2,397.9 L1591.5,399.2 L1590.8,399.8 L1590,400.1 L1589.2,400.3 L1585.5,400.3 L1584.8,400.2 L1584,400 L1583.2,399.5 L1582.5,398.6 L1581.8,371.5 L1581,370.9 L1580.2,369.7 L1579.5,456.9 L1578.8,457.9 L1578,458.4 L1577.2,458.7 L1576.5,458.8 L1573.5,458.8Z" fill="#0000ff"/>
<path d="M1583.3,164.1 V194.8 M1596.3,190.2 V206.7 M1632.9,148.4 V158.5 M1642.3,154.7 V182.3 M1648.1,154.7 V188.5 M1656.7,144.2 V161.2 M1665.3,169.3 V209.2 M1693.5,152.6 V172.5 M1698.7,167.2 V180.7 M1713.4,182.9 V197.5 M1728,154.7 V192.5 M1736.1,182.9 V209.5 M1743.7,182.9 V207.4 M1751.2,155.7 V166.8 M1765.6,143.2 V176.6 M1774,170.4 V209.4 M1810.7,202 V226.3 M1825.8,180.8 V218.5 M1841,163 V184 M1849.3,191.3 V212.8 M1864,182.9 V193.7 M1870.2,182.9 V214.4 M1883.3,172.5 V197.2 M1905.8,171.4 V199.7 M1936.1,186 V201.1 M1941.3,186 V223.8 M1949.4,192.3 V220.2 M1957,192.3 V205.4 M1964.3,154.7 V189.1 M1979.7,134.8 V165.3 M2009.2,172.5 V212.1 M2027.1,107.7 V128.9 M2030.4,188.1 V224.4 M2034.7,188.1 V200.2 M2061.3,181.9 V217 M2066,173.5 V191.2 M2074.3,164.1 V186.7 M2082.7,146.3 V158.4 M2089.5,198.6 V235.5 M2110.9,186 V203.6 M2140.2,191.3 V207.6 M2178.3,164.1 V191.5 M2193.4,167.2 V193.3 M2200.8,165.1 V198.2 M2208.1,175.6 V206.1 M2220.6,168.3 V196.1 M1580.3,369 V350.1 M1594.9,360 V347.9 M1602.2,363 V352.4 M1609.5,369 V355.9 M1624.1,369 V347.1 M1631.4,369 V348.1 M1638.7,357 V343.3 M1646,369 V350.7 M1660.6,366 V340.4 M1682.5,360 V339.8 M1689.8,360 V333.2 M1697.1,369 V343.3 M1704,369 V343.7 M1711.3,369 V358.1 M1718.6,369 V352.2 M1733.2,369 V347.9 M1748.2,360 V336.8 M1770.1,360 V334.6 M1784.7,366 V338.1 M1795,369 V352 M1806.6,369 V357.3 M1813.9,357 V329.1 M1821.2,360 V336.3 M1828.5,369 V344.8 M1835.8,357 V335.6 M1843.1,363 V344.2 M1850.4,369 V357.9 M1857.7,363 V347.6 M1879.6,369 V350.5 M1901.5,366 V345.4 M1952.6,357 V326.8 M1959.9,357 V333.5 M1981.8,360 V343.1 M1989.1,363 V344.4 M1996.4,369 V346.8 M2003.7,366 V349.3 M2020,369 V338 M2030.4,369 V351.6 M2047.5,369 V338.1 M2054.8,363 V347.4 M2069.4,369 V344 M2076.7,366 V342.8 M2084,369 V350.7 M2098.6,363 V339.4 M2105.9,369 V355.2 M2113.2,357 V341 M2120.5,363 V331.9 M2127.8,369 V341.2 M2143.3,369 V348 M2149.7,360 V336.6 M2160,369 V358.8 M2172.5,369 V352.2 M2187.2,369 V356 M2208.1,369 V354.9 M2215.4,360 V337.9 M2222.7,369 V341.3 " stroke="#00b050" stroke-width="1.5" fill="none" opacity="0.7"/>
<rect x="1569.8" y="238" width="8" height="130" fill="#0000ff"/>
<rect x="2230" y="200" width="8.3" height="160" fill="#0000ff"/>
<line x1="1573.0" x2="2235.5" y1="290.0" y2="290.0" stroke="#ff0000" stroke-width="9.5"/>
<path d="M1913,617.9 L1915,617.5 L1917,616.7 L1919,618.6 L1921,617.6 L1923,617.3 L1925,619.2 L1927,615 L1929,615 L1931,612.7 L1933,613.5 L1935,613.9 L1937,613.8 L1939,613.9 L1941,614.1 L1943,613.7 L1945,612.3 L1947,612.2 L1949,612.3 L1951,613.2 L1953,612.2 L1955,612.8 L1957,613.4 L1959,613.1 L1961,613.7 L1963,613.9 L1965,614.8 L1967,616.1 L1969,620.2 L1971,620.8 L1973,621.1 L1975,621.1 L1977,620.6 L1979,620.8 L1981,621.3 L1983,622.9 L1985,622.5 L1987,622.3 L1989,620.5 L1991,620.3 L1993,621.3 L1995,621.4 L1997,620.6 L1999,620.9 L2001,619.9 L2003,620.3 L2005,618.9 L2007,618.8 L2009,618.9 L2011,618.8 L2013,617.2 L2015,618 L2017,617.9 L2019,616.8 L2021,617 L2023,615.7 L2025,615.6 L2027,616.3 L2029,615.5 L2031,616.3 L2033,615.8 L2035,614.8 L2037,616.5 L2039,615.6 L2041,616.1 L2043,615 L2045,616.4 L2047,615.6 L2049,615.8 L2051,615.9 L2053,615.5 L2055,615.4 L2057,616 L2059,616.2 L2061,616.3 L2063,617.4 L2065,617.6 L2067,618.9 L2069,618.8 L2071,619.3 L2073,618.2 L2075,619.9 L2077,620 L2079,619.5 L2081,619.6 L2083,620.2 L2085,618.7 L2087,619.7 L2089,618.7 L2091,619.2 L2093,618.9 L2095,617.3 L2097,617.6 L2099,618.2 L2101,616.4 L2103,617.2 L2105,616.8 L2107,615.7 L2109,616.7 L2111,616.4 L2113,614.8 L2115,614.5 L2117,614.3 L2119,614.5 L2121,613.2 L2123,613.8 L2125,613.5 L2127,613.7 L2129,612.4 L2131,612.7 L2133,611.8 L2135,612.5 L2137,612.3 L2139,614.4 L2141,614.3 L2143,614.7 L2145,613.7 L2147,615.4 L2149,615.4 L2151,616.3 L2153,616.4 L2155,617.4 L2157,618.4 L2159,619.3 L2161,617.9 L2163,617.2 L2165,615.9 L2167,616.9 L2169,616.2 L2171,615.9 L2173,615.8 L2175,615.5 L2177,615.7 L2179,615.8 L2181,616.1 L2183,617.1 L2185,618.6 L2187,622 L2189,619.5 L2191,617.5 L2193,615 L2195,615.5 L2197,617 L2199,616.4 L2201,616.6 L2203,616 L2205,617.1 L2207,616.1 L2209,617 L2211,616.5 L2213,616.2 L2215,617 L2217,616.4 L2219,616.9 L2221,616.3 L2223,617.4 L2225,617.5 L2227,616.3 L2229,615.4 L2231,616.4 L2233,615.4 L2235,616.3 L2237,616.1 L2239,616.3 L2241,615.7 L2243,616 L2245,614.9 L2247,615.6 L2249,615.7 L2251,614.9 L2253,615.7 L2255,615 L2257,613.7 L2259,614.8 L2261,613.2 L2263,614.7 L2265,613.6 L2267,614.4 L2269,616.5 L2271,624 L2271,672.3 L2269,678 L2267,680.2 L2265,680.9 L2263,680.1 L2261,678.9 L2259,679.6 L2257,680.6 L2255,680.3 L2253,680.3 L2251,679.6 L2249,678.6 L2247,678.6 L2245,679.1 L2243,679.6 L2241,678.7 L2239,678.7 L2237,679.2 L2235,678.6 L2233,678.8 L2231,679.1 L2229,678.6 L2227,678.4 L2225,678.8 L2223,679 L2221,679 L2219,678.6 L2217,678.5 L2215,678.4 L2213,678.5 L2211,678 L2209,677.4 L2207,677 L2205,678.5 L2203,676.8 L2201,677.4 L2199,676.6 L2197,678.1 L2195,676.7 L2193,676.9 L2191,676.8 L2189,677.3 L2187,677.8 L2185,676.1 L2183,676.8 L2181,676.6 L2179,676.9 L2177,677.7 L2175,677.5 L2173,677.2 L2171,678.1 L2169,678.8 L2167,677.4 L2165,678 L2163,678.2 L2161,678 L2159,679 L2157,678.6 L2155,680.1 L2153,678.6 L2151,679.2 L2149,680.6 L2147,679.9 L2145,680.3 L2143,679.2 L2141,679.2 L2139,677.7 L2137,679.8 L2135,681.2 L2133,681.2 L2131,680.4 L2129,677.6 L2127,677.5 L2125,676.8 L2123,676.1 L2121,674.5 L2119,675 L2117,672.7 L2115,674.1 L2113,674 L2111,673.1 L2109,675.5 L2107,678.3 L2105,679.2 L2103,680 L2101,679 L2099,679.8 L2097,679.5 L2095,678.2 L2093,679 L2091,678.6 L2089,678.2 L2087,676.7 L2085,674.3 L2083,673.7 L2081,673.9 L2079,674.3 L2077,673.8 L2075,675.7 L2073,675 L2071,676.1 L2069,676.5 L2067,678.7 L2065,677.7 L2063,677.3 L2061,677.9 L2059,675.8 L2057,676.1 L2055,675.7 L2053,676.3 L2051,674.6 L2049,674.9 L2047,673.7 L2045,674.2 L2043,673.8 L2041,673.1 L2039,674.5 L2037,674.8 L2035,674.2 L2033,675.1 L2031,675.3 L2029,675.4 L2027,675.6 L2025,674.8 L2023,676.3 L2021,676.1 L2019,675.7 L2017,676.6 L2015,675.8 L2013,677.3 L2011,676.2 L2009,679.4 L2007,681.5 L2005,681.4 L2003,682.2 L2001,680.4 L1999,681.3 L1997,681.2 L1995,680.3 L1993,680.2 L1991,676.3 L1989,675.9 L1987,671.6 L1985,671.3 L1983,671.7 L1981,672 L1979,670.6 L1977,670.7 L1975,673 L1973,674.4 L1971,677.4 L1969,676.9 L1967,677 L1965,676.7 L1963,677.7 L1961,676.6 L1959,677.4 L1957,677.7 L1955,676.2 L1953,676.4 L1951,673.2 L1949,674.5 L1947,677.2 L1945,680 L1943,682.6 L1941,687 L1939,686.8 L1937,685.6 L1935,685.7 L1933,684.9 L1931,684.3 L1929,684.9 L1927,684.7 L1925,684.6 L1923,681.9 L1921,681 L1919,679.1 L1917,676.9 L1915,676.7 L1913,675Z" fill="#00ff00"/>
<path d="M452,47.5 L478,47.5 L478.5,300 L485.4,305 L487,416 L492.8,420.7 L494,467.6 L500,472.5 L502.7,502 L507.6,507 L511.6,527 L514,529 L516,530.9 L518,531.4 L520,534.3 L522,534.7 L524,536.7 L526,539.4 L528,539.6 L530,542.9 L532,543.2 L534,546.3 L536,548 L538,548.2 L540,549.9 L542,557.9 L544,562.1 L546,564.8 L548,564 L550,566.6 L552,568.3 L554,566.3 L556,571.5 L558,568.4 L560,571.9 L562,573.4 L564,574.4 L566,574.2 L568,572.6 L570,577 L572,576.5 L574,577.6 L576,580.2 L578,580.8 L580,584.5 L582,585.9 L584,586.6 L586,585.7 L588,588.2 L590,589.2 L592,588.3 L594,589.3 L596,590.4 L598,588.5 L600,589.3 L602,591.9 L604,590.7 L606,591.3 L608,590.1 L610,591.1 L612,593.7 L614,590.9 L616,595.7 L618,595 L620,594 L622,597.6 L624,596.7 L626,599.5 L628,597.2 L630,597.4 L632,599 L634,598.2 L636,601.6 L638,600.4 L640,601.2 L642,601.6 L644,602.5 L646,601 L648,600.8 L650,603.4 L652,602.8 L654,606 L656,603.3 L658,603.8 L660,602.5 L662,603.7 L664,606.4 L666,606.1 L668,604.9 L670,608.2 L672,606.3 L674,607.9 L676,608.3 L678,608.7 L680,605.5 L682,608.8 L684,608.4 L686,607.9 L688,605.4 L690,608.8 L692,606.7 L694,605.8 L696,603.8 L698,603.8 L700,603.2 L702,605.6 L704,604.6 L706,606.7 L708,606 L710,607.4 L712,613.1 L714,614.8 L716,616.3 L718,616.7 L720,615.9 L722,615.8 L724,617.7 L726,619.4 L728,617.8 L730,618.4 L732,617.9 L734,616.4 L736,618.1 L738,619 L740,618.6 L742,618.4 L744,621.5 L746,617.5 L748,618.1 L750,617.8 L752,618.2 L754,620.2 L756,620.3 L758,621.8 L760,619.3 L762,622.1 L764,622.1 L766,621.4 L768,621.6 L770,620.8 L772,622.1 L774,622.4 L776,621.7 L778,621.9 L780,620.7 L782,622.3 L784,618.2 L786,619.4 L788,621.6 L790,621 L792,620.4 L794,620.2 L796,621.3 L798,617.7 L800,616.9 L802,619.3 L804,619.1 L806,620.9 L808,620.7 L810,619.5 L812,619.7 L814,616.9 L816,620 L818,620.6 L820,616 L822,617.9 L824,619.7 L826,617.7 L828,620 L830,617.5 L832,615.3 L834,615.7 L836,616.2 L838,617.7 L840,616.6 L842,616.9 L844,613.4 L846,614 L848,612.2 L850,613.8 L852,613.7 L854,611.8 L856,611.8 L858,613.3 L860,614.4 L862,615.2 L864,616.4 L866,619.7 L868,618.7 L870,619.8 L872,621.7 L874,622.1 L876,621.2 L878,621.7 L880,620 L882,617.3 L884,618.3 L886,614.5 L888,612.9 L890,614.1 L892,617.9 L894,619.7 L896,620.7 L898,621.9 L900,621.3 L902,618.7 L904,616.8 L906,616.5 L908,617.7 L910,616.3 L912,615 L914,617.9 L916,614.6 L918,614.5 L920,616.9 L922,618.8 L924,620.9 L926,622.2 L928,619.1 L930,621.1 L932,618.7 L934,617.7 L936,620.3 L938,620.1 L940,617.3 L942,618.2 L944,620.7 L946,621.1 L948,621.1 L950,617.7 L952,618.3 L954,621.7 L956,618.6 L958,618.1 L960,619.8 L962,621.4 L964,620.7 L966,621.2 L968,620.4 L970,614.4 L972,615.4 L974,616.4 L976,614.8 L978,617.6 L980,615.9 L982,616.5 L984,620 L986,620.4 L988,620.7 L990,621.5 L992,620.4 L994,622.6 L996,621.4 L998,622.3 L1000,618.2 L1002,620.4 L1004,619.5 L1006,619 L1008,618 L1010,620.9 L1012,619.1 L1014,621.7 L1016,622.2 L1018,622.8 L1020,625.4 L1022,623.2 L1024,624.2 L1026,624.8 L1028,620.8 L1030,623.5 L1032,621.9 L1034,620.4 L1036,621 L1038,621.9 L1040,620.6 L1042,619.4 L1044,617.3 L1046,619.6 L1048,616.4 L1050,618 L1052,618.3 L1054,616.5 L1056,618.2 L1058,618.5 L1060,618 L1062,617.8 L1064,621.4 L1066,622 L1068,622.8 L1070,622.1 L1072,620.6 L1074,621 L1076,620 L1078,619.6 L1080,616.7 L1082,614.6 L1084,609.6 L1086,608.8 L1088,611.5 L1090,609.6 L1092,607.2 L1094,607.9 L1096,612.2 L1098,613.2 L1100,612.5 L1102,615.2 L1104,614.7 L1106,615.2 L1108,612.1 L1110,611.3 L1112,610.5 L1114,628.5 L1116,627.2 L1118,628.7 L1120,632.6 L1122,630.1 L1124,629.8 L1126,633.4 L1128,630 L1130,632.8 L1132,632.4 L1134,630.1 L1136,630.9 L1138,634.2 L1140,633 L1142,632.7 L1144,638.3 L1146,642.5 L1148,641.9 L1150,639.9 L1152,643.3 L1154,638.4 L1156,636.6 L1158,636.3 L1160,633.6 L1162,632.2 L1164,632.7 L1166,634.9 L1168,630.5 L1170,631.4 L1172,630.5 L1174,634.7 L1176,633.9 L1178,638.3 L1180,638 L1182,642.1 L1184,642.8 L1186,641.4 L1188,637.4 L1190,635.7 L1192,636.2 L1194,634.6 L1196,629.2 L1198,631 L1200,630.5 L1202,633.5 L1204,633.8 L1206,630.9 L1208,632.3 L1210,639 L1212,638.9 L1214,640.4 L1216,639.6 L1218,643 L1220,638.9 L1222,640.8 L1224,635.1 L1226,635.2 L1228,633.8 L1230,632.1 L1232,630.4 L1234,633.5 L1236,634.2 L1238,632.3 L1240,633.7 L1242,634.3 L1244,634 L1246,637.3 L1248,640.5 L1250,641.9 L1252,641.9 L1254,639.8 L1256,642 L1258,638.4 L1260,637.3 L1262,633.8 L1264,632.8 L1266,629 L1268,622.8 L1270,612 L1272,609.1 L1274,610.7 L1276,609.2 L1278,609 L1280,615.7 L1282,614.4 L1284,617.8 L1286,618.9 L1288,618.8 L1290,620.5 L1292,619.6 L1294,618.4 L1296,616.6 L1298,619.3 L1300,616.6 L1302,616.8 L1304,616.7 L1306,615.7 L1308,613.8 L1310,613.7 L1312,614 L1314,615 L1316,612.4 L1318,615.5 L1320,616.9 L1322,618.1 L1324,615.4 L1326,616.2 L1328,618.1 L1330,620.8 L1332,622 L1334,622.3 L1336,621.3 L1338,622.6 L1340,621 L1342,621.7 L1344,618.1 L1346,617.9 L1348,619.7 L1350,620.6 L1352,615.5 L1354,617 L1356,615.1 L1358,615.2 L1360,614.2 L1362,615.6 L1364,617.4 L1366,620.2 L1368,618.9 L1370,621.5 L1372,620.5 L1374,621.5 L1376,620.2 L1378,621.4 L1380,620.5 L1382,618.1 L1384,617.4 L1386,614.7 L1388,614 L1390,612.4 L1392,612.4 L1394,611.7 L1396,610.5 L1398,613.2 L1400,613.8 L1402,610.9 L1404,615.3 L1406,612.8 L1408,613.5 L1410,616.7 L1412,613.3 L1414,613.3 L1416,615.4 L1418,615.7 L1420,616.2 L1422,620.2 L1424,619.2 L1426,620.1 L1428,619.3 L1430,620.3 L1432,621 L1434,622.6 L1436,619.9 L1438,619.8 L1440,618.6 L1442,619.7 L1444,619.8 L1446,620.7 L1448,621 L1450,623.6 L1452,619.3 L1454,618.9 L1456,616.8 L1458,615.1 L1460,613.2 L1462,614.2 L1464,616.5 L1466,612.7 L1468,612.9 L1470,614.1 L1472,613.9 L1474,613.3 L1476,615.8 L1478,610 L1480,609.8 L1482,610.1 L1484,613.4 L1486,615.3 L1488,618.1 L1490,615.8 L1492,615 L1494,615.1 L1496,611.1 L1498,607.5 L1500,606.8 L1502,606.7 L1504,607.7 L1506,608.9 L1508,615 L1510,618.1 L1512,616.2 L1514,612.4 L1516,613.1 L1518,610.4 L1520,611.7 L1522,610.4 L1524,609 L1526,606.6 L1528,606.1 L1530,605.8 L1532,607.2 L1534,606.5 L1536,607.6 L1538,608.4 L1540,610.9 L1542,608 L1544,612.1 L1546,608.7 L1548,609.3 L1550,614 L1552,612.2 L1554,610.8 L1556,610.5 L1558,613.5 L1560,617.1 L1562,620.1 L1564,616.4 L1566,619.3 L1568,616.9 L1570,618.4 L1572,615.9 L1574,613.2 L1576,618.1 L1578,615.7 L1580,618.1 L1582,617.2 L1584,619 L1586,621 L1588,616.6 L1590,617.2 L1592,618.2 L1594,617 L1596,613.4 L1598,613.9 L1600,615.6 L1602,617.3 L1604,617.3 L1606,618.3 L1608,616.8 L1610,621.2 L1612,618.1 L1614,618.1 L1616,622 L1618,618.6 L1620,619.7 L1622,618.5 L1624,621 L1626,620.3 L1628,619.8 L1630,616.5 L1632,619.2 L1634,621 L1636,621.4 L1638,622.8 L1640,624.7 L1642,625.1 L1644,620.5 L1646,622 L1648,617.7 L1650,619.9 L1652,618.6 L1654,616.3 L1656,616.7 L1658,614.7 L1660,611.9 L1662,612.3 L1664,612.6 L1666,613.5 L1668,612.1 L1670,612 L1672,613.9 L1674,613 L1676,616.3 L1678,613 L1680,614.3 L1682,614.1 L1684,616.6 L1686,620.3 L1688,622.7 L1690,616.4 L1692,618 L1694,614.2 L1696,614.9 L1698,615.3 L1700,613.2 L1702,612.2 L1704,615.7 L1706,613.9 L1708,615.7 L1710,614.6 L1712,615.5 L1714,616.6 L1716,616.8 L1718,615.4 L1720,608.5 L1722,607.7 L1724,613.4 L1726,614.4 L1728,613.3 L1730,615.1 L1732,615.9 L1734,614.9 L1736,615.1 L1738,614 L1740,615.4 L1742,614.9 L1744,615 L1746,613.7 L1748,613 L1750,615.3 L1752,618.5 L1754,620.2 L1756,621.2 L1758,623.5 L1760,623.5 L1762,624.3 L1764,622.7 L1766,618.8 L1768,622.3 L1770,619.9 L1772,618.7 L1774,617 L1776,619.6 L1778,618.7 L1780,617.7 L1782,615.6 L1784,613.9 L1786,610 L1788,609 L1790,607.6 L1792,612.3 L1794,617.5 L1796,619.6 L1798,621.2 L1800,622.9 L1802,622.1 L1804,624.6 L1806,622.4 L1808,619.6 L1810,619.8 L1812,619.3 L1814,618.3 L1816,621.2 L1818,621.2 L1820,620.3 L1822,617.9 L1824,616.5 L1826,614.7 L1828,615.1 L1830,614.8 L1832,614.2 L1834,616.2 L1836,616.3 L1838,619.4 L1840,616.4 L1842,619.5 L1844,616.8 L1846,618.2 L1848,619.4 L1850,619.9 L1852,618.9 L1854,616.6 L1856,615.9 L1858,618.4 L1860,618.2 L1862,615.6 L1864,614.9 L1866,615.4 L1868,615.8 L1870,613.6 L1872,618.2 L1874,618.6 L1876,619.6 L1878,619 L1880,620.6 L1882,617.7 L1884,618 L1886,617.4 L1888,615.6 L1890,610.5 L1892,611.4 L1894,613.4 L1896,614.9 L1898,612.8 L1900,612.1 L1902,613.7 L1904,614.8 L1906,613.3 L1908,612.4 L1910,616.1 L1912,617.4 L1914,616.3 L1916,616.1 L1918,615.1 L1920,617.7 L1922,615.1 L1924,615.6 L1926,617 L1928,618.6 L1930,615.2 L1932,618.5 L1934,616 L1936,618.9 L1938,618.9 L1940,616.3 L1942,618.5 L1944,615.3 L1946,617.5 L1948,619 L1950,618.8 L1952,617.9 L1954,616.7 L1956,615.3 L1958,619.1 L1960,617.9 L1962,618.8 L1964,615.3 L1966,619.6 L1968,620.4 L1970,620.7 L1972,619.5 L1974,617.4 L1976,617.8 L1978,618.9 L1980,617.9 L1982,618.6 L1984,621.4 L1986,621.8 L1988,617.9 L1990,618.5 L1992,621.6 L1994,618.3 L1996,619.4 L1998,619.1 L2000,619 L2002,619.4 L2004,619.9 L2006,618.3 L2008,617.6 L2010,614.4 L2012,618.1 L2014,613.7 L2016,617 L2018,616 L2020,613.4 L2022,613.1 L2024,614.7 L2026,616.2 L2028,613.8 L2030,614.4 L2032,611.8 L2034,615.3 L2036,614.6 L2038,612.1 L2040,616.3 L2042,614.5 L2044,612.6 L2046,612.9 L2048,616.4 L2050,616.5 L2052,616.4 L2054,612.4 L2056,615.9 L2058,613.8 L2060,613.4 L2062,616.4 L2064,617 L2066,614 L2068,615.9 L2070,617.9 L2072,616 L2074,618.3 L2076,618.8 L2078,620.4 L2080,616.9 L2082,615.9 L2084,617 L2086,615.3 L2088,619.5 L2090,618.2 L2092,616.9 L2094,614.3 L2096,614.1 L2098,616.6 L2100,617 L2102,615.9 L2104,615.4 L2106,613 L2108,616.4 L2110,613.2 L2112,613.3 L2114,612.4 L2116,612.2 L2118,612.6 L2120,613.5 L2122,613.2 L2124,612.5 L2126,610.1 L2128,613.1 L2130,612.1 L2132,609.4 L2134,612.2 L2136,613.4 L2138,613.9 L2140,611.8 L2142,613.3 L2144,610.5 L2146,611.3 L2148,611.2 L2150,615 L2152,616.7 L2154,617.5 L2156,616.4 L2158,616.2 L2160,618.3 L2162,620.1 L2164,620.1 L2166,619.9 L2168,619.9 L2170,619.4 L2172,618.8 L2174,619.6 L2176,622.1 L2178,618.5 L2180,621.1 L2182,619.6 L2184,620.6 L2186,618.9 L2188,621.6 L2190,621.4 L2192,621.5 L2194,622.1 L2196,618.7 L2198,620.2 L2200,621.5 L2202,621.3 L2204,618.5 L2206,620.9 L2208,622.4 L2210,619.7 L2212,620.5 L2214,619 L2216,623.3 L2218,621.4 L2220,619.6 L2222,619.4 L2224,619 L2226,623.1 L2228,621.8 L2230,622.5 L2232,622.1 L2234,618.2 L2236,620 L2238,618.3 L2240,620.8 L2242,618.4 L2244,620.3 L2246,621.1 L2248,618.5 L2250,617.4 L2252,621.3 L2254,618.7 L2256,618.4 L2258,620.1 L2260,619.1 L2262,620 L2264,619.5 L2266,619 L2268,617.2 L2270,619.9 L2270,670.5 L2268,677.6 L2266,677.4 L2264,673.5 L2262,674.8 L2260,674.4 L2258,675.6 L2256,676.9 L2254,675.3 L2252,674.8 L2250,673.3 L2248,676.6 L2246,672.4 L2244,673.7 L2242,674.6 L2240,671.9 L2238,675.9 L2236,676 L2234,673.6 L2232,675.5 L2230,673.9 L2228,671.4 L2226,671.4 L2224,671.8 L2222,671.8 L2220,671 L2218,671.9 L2216,675.3 L2214,674.5 L2212,674.2 L2210,675 L2208,672.4 L2206,674.1 L2204,671.5 L2202,673 L2200,672.5 L2198,674.3 L2196,674.8 L2194,670.2 L2192,670.1 L2190,672.4 L2188,671.5 L2186,672.7 L2184,670.5 L2182,673.5 L2180,673 L2178,670.6 L2176,672 L2174,675.2 L2172,670.8 L2170,671.4 L2168,673.4 L2166,673 L2164,673.9 L2162,673.1 L2160,674.9 L2158,672.5 L2156,672.8 L2154,672.9 L2152,675 L2150,674.6 L2148,675 L2146,676.9 L2144,677.1 L2142,677.1 L2140,677 L2138,681.1 L2136,682.8 L2134,680.4 L2132,681.3 L2130,682 L2128,680.9 L2126,677.6 L2124,676.5 L2122,676.8 L2120,677 L2118,675.7 L2116,673.8 L2114,677.1 L2112,676.1 L2110,673.4 L2108,676.1 L2106,674.9 L2104,672.5 L2102,673.7 L2100,676.3 L2098,675.1 L2096,675.6 L2094,675.7 L2092,672.8 L2090,674.1 L2088,675.5 L2086,675.1 L2084,675.8 L2082,672.6 L2080,677.3 L2078,677.5 L2076,677.1 L2074,676.9 L2072,676.7 L2070,676.1 L2068,678 L2066,680.9 L2064,681 L2062,679.2 L2060,679.3 L2058,677.5 L2056,679.6 L2054,677.1 L2052,676.2 L2050,677.3 L2048,678.1 L2046,678.5 L2044,676.4 L2042,674.7 L2040,676.8 L2038,676.4 L2036,678 L2034,673.8 L2032,675.2 L2030,676.7 L2028,678 L2026,679 L2024,678.5 L2022,676.8 L2020,677.2 L2018,678.5 L2016,678.8 L2014,677.7 L2012,680 L2010,676.5 L2008,678.6 L2006,677.1 L2004,677.3 L2002,675.8 L2000,673.9 L1998,675.5 L1996,676.9 L1994,673.1 L1992,675.4 L1990,672.9 L1988,671.5 L1986,675 L1984,674.1 L1982,670.9 L1980,670.8 L1978,674.1 L1976,675.2 L1974,671.7 L1972,674.9 L1970,672.5 L1968,673.6 L1966,673.1 L1964,670.4 L1962,673.4 L1960,674 L1958,673.2 L1956,674 L1954,671.7 L1952,673.5 L1950,677.4 L1948,676.2 L1946,679.7 L1944,677.5 L1942,679.2 L1940,683.5 L1938,679.4 L1936,683.2 L1934,678.9 L1932,681.2 L1930,677.6 L1928,677.3 L1926,677.7 L1924,677.6 L1922,679.3 L1920,676.4 L1918,677.6 L1916,677.5 L1914,679.6 L1912,679.1 L1910,677.6 L1908,677 L1906,675.6 L1904,678.1 L1902,680.7 L1900,679.5 L1898,680.3 L1896,676.8 L1894,676.1 L1892,678.4 L1890,675.7 L1888,679.7 L1886,678 L1884,676.8 L1882,676 L1880,676.8 L1878,676.7 L1876,677 L1874,679 L1872,680.6 L1870,681.3 L1868,679.6 L1866,681.5 L1864,681.1 L1862,677.9 L1860,671.8 L1858,670.8 L1856,670.5 L1854,673.8 L1852,672.5 L1850,673.6 L1848,671.5 L1846,673.9 L1844,673.6 L1842,674.2 L1840,674 L1838,673.2 L1836,672.4 L1834,673.1 L1832,671.8 L1830,671.5 L1828,672.7 L1826,675.6 L1824,673.5 L1822,674.1 L1820,676.9 L1818,677.2 L1816,679.1 L1814,679.9 L1812,678.3 L1810,674.1 L1808,676.8 L1806,675.2 L1804,666.7 L1802,661 L1800,664.2 L1798,667.4 L1796,672.7 L1794,675.2 L1792,679.2 L1790,677.6 L1788,677 L1786,678.7 L1784,678.9 L1782,681.5 L1780,678.8 L1778,680.5 L1776,678.4 L1774,676.9 L1772,676.2 L1770,674.3 L1768,676.1 L1766,674.2 L1764,673.2 L1762,672 L1760,673.6 L1758,670.4 L1756,671 L1754,670.8 L1752,667.5 L1750,671.9 L1748,670.2 L1746,670.5 L1744,673 L1742,670.1 L1740,673.2 L1738,673.5 L1736,674.6 L1734,673.4 L1732,677.8 L1730,679.3 L1728,677.6 L1726,681.9 L1724,679.3 L1722,679.2 L1720,681.4 L1718,680.6 L1716,680.2 L1714,679.8 L1712,681.6 L1710,677.7 L1708,681.8 L1706,680.3 L1704,680.2 L1702,678.9 L1700,675.6 L1698,675.5 L1696,671.9 L1694,672.4 L1692,669.1 L1690,669.3 L1688,670.6 L1686,673.1 L1684,675.9 L1682,674.9 L1680,677.6 L1678,677.8 L1676,679.8 L1674,678.7 L1672,683 L1670,683.9 L1668,685.3 L1666,683.2 L1664,682.6 L1662,680.7 L1660,681 L1658,676.4 L1656,677.7 L1654,676.6 L1652,671.3 L1650,670.6 L1648,670.9 L1646,666.7 L1644,665.5 L1642,668.2 L1640,671.9 L1638,676.8 L1636,678.8 L1634,674.1 L1632,673.9 L1630,676.7 L1628,677.5 L1626,674 L1624,676.9 L1622,677.3 L1620,676.7 L1618,672.8 L1616,676.4 L1614,677.1 L1612,675.7 L1610,678.4 L1608,679.6 L1606,679.8 L1604,681.4 L1602,681.8 L1600,682.8 L1598,683.3 L1596,684.4 L1594,680 L1592,679.9 L1590,680 L1588,677.6 L1586,676.5 L1584,674.3 L1582,675.5 L1580,671.4 L1578,672.1 L1576,667 L1574,669.7 L1572,669.2 L1570,670.8 L1568,673.1 L1566,673.8 L1564,673.7 L1562,673 L1560,676.6 L1558,673.8 L1556,676.1 L1554,676.4 L1552,678.4 L1550,680.9 L1548,682.5 L1546,681 L1544,683.1 L1542,685.6 L1540,689.2 L1538,686.2 L1536,686.9 L1534,688 L1532,686.3 L1530,683 L1528,682.3 L1526,681.9 L1524,683.1 L1522,681.2 L1520,680.7 L1518,678.3 L1516,679.6 L1514,678.5 L1512,677 L1510,677.9 L1508,680.4 L1506,675.6 L1504,678 L1502,675.5 L1500,676.2 L1498,673.2 L1496,676 L1494,672.7 L1492,672.5 L1490,674.6 L1488,674.5 L1486,674.6 L1484,676.4 L1482,676.4 L1480,677.3 L1478,675.9 L1476,678.7 L1474,681.5 L1472,681.5 L1470,679.4 L1468,681.5 L1466,678.8 L1464,683 L1462,680.3 L1460,679.6 L1458,681.2 L1456,680.3 L1454,677.7 L1452,680.2 L1450,676.9 L1448,673.7 L1446,672.7 L1444,669.9 L1442,667.7 L1440,666.7 L1438,669 L1436,669.8 L1434,670.5 L1432,669.2 L1430,668.1 L1428,674.8 L1426,677.4 L1424,677 L1422,675.6 L1420,673.5 L1418,672.9 L1416,672.3 L1414,672.9 L1412,673.6 L1410,673.1 L1408,670.9 L1406,672.6 L1404,675.3 L1402,675.5 L1400,675.9 L1398,679.3 L1396,679.6 L1394,679 L1392,681.1 L1390,679.4 L1388,681.2 L1386,681.4 L1384,680.2 L1382,680.5 L1380,680.4 L1378,677.9 L1376,675.2 L1374,675.5 L1372,673.2 L1370,671.3 L1368,672.5 L1366,669 L1364,670 L1362,671.8 L1360,672.5 L1358,673.8 L1356,671.3 L1354,670.4 L1352,675.9 L1350,673.2 L1348,677.7 L1346,679.3 L1344,675.1 L1342,675.3 L1340,674 L1338,675.2 L1336,673.8 L1334,672.9 L1332,672 L1330,670.4 L1328,671 L1326,669.1 L1324,668.5 L1322,669.4 L1320,671 L1318,674.1 L1316,672.1 L1314,670.5 L1312,672.7 L1310,673.6 L1308,672 L1306,670.7 L1304,673.5 L1302,673.1 L1300,673.9 L1298,672.6 L1296,676.5 L1294,678.3 L1292,679.5 L1290,679.9 L1288,679.7 L1286,678.4 L1284,677.9 L1282,675.5 L1280,676.9 L1278,672.8 L1276,671.7 L1274,671.9 L1272,666.8 L1270,664.4 L1268,661.4 L1266,658.6 L1264,650.4 L1262,654.5 L1260,652.5 L1258,653 L1256,653.2 L1254,655 L1252,656.2 L1250,657.9 L1248,669.4 L1246,669 L1244,671.5 L1242,668.8 L1240,666.6 L1238,653.2 L1236,651 L1234,651.4 L1232,654.7 L1230,651.5 L1228,654.3 L1226,652.1 L1224,652.9 L1222,651.8 L1220,655.2 L1218,654.2 L1216,654.7 L1214,652.8 L1212,669.9 L1210,672.3 L1208,669.4 L1206,668.2 L1204,660.2 L1202,653.8 L1200,650.5 L1198,654.3 L1196,651.3 L1194,653 L1192,653.9 L1190,652.6 L1188,655.1 L1186,654 L1184,654.3 L1182,652.9 L1180,668.6 L1178,672.7 L1176,670.8 L1174,672.8 L1172,657.5 L1170,651.6 L1168,653.2 L1166,651.2 L1164,651 L1162,649.9 L1160,651.8 L1158,653.1 L1156,652.8 L1154,655.7 L1152,652.8 L1150,653 L1148,654.2 L1146,668.7 L1144,672.6 L1142,671.5 L1140,672.1 L1138,664.2 L1136,650 L1134,650.3 L1132,650.8 L1130,650.3 L1128,654.3 L1126,654.2 L1124,654 L1122,650.1 L1120,654.1 L1118,657.4 L1116,660.8 L1114,659.8 L1112,662.2 L1110,660.9 L1108,665.4 L1106,665.2 L1104,664.9 L1102,665.2 L1100,662.1 L1098,660.9 L1096,658.7 L1094,656.9 L1092,660.4 L1090,660.5 L1088,664.1 L1086,666.5 L1084,671 L1082,667.8 L1080,671.2 L1078,670.1 L1076,671.4 L1074,671 L1072,670.1 L1070,667.1 L1068,668.4 L1066,667.9 L1064,668.9 L1062,667.4 L1060,670.1 L1058,668.9 L1056,669.3 L1054,669.2 L1052,670.8 L1050,667.9 L1048,668.6 L1046,671.3 L1044,668 L1042,669.3 L1040,669.6 L1038,668 L1036,664.9 L1034,664.3 L1032,662.5 L1030,666.4 L1028,664.5 L1026,669.4 L1024,669.2 L1022,668.3 L1020,668.5 L1018,668.7 L1016,666 L1014,665.6 L1012,663.2 L1010,666.3 L1008,668 L1006,668.3 L1004,669.5 L1002,668.5 L1000,668.1 L998,669.8 L996,669.3 L994,670 L992,671.2 L990,672.6 L988,671.4 L986,672.8 L984,673.4 L982,669.5 L980,672.9 L978,673.4 L976,674 L974,670 L972,671.3 L970,671.1 L968,669.9 L966,672.3 L964,670.9 L962,669.7 L960,669.6 L958,667 L956,666.2 L954,670.1 L952,668.9 L950,667 L948,671.4 L946,668.6 L944,670.1 L942,671.6 L940,672.9 L938,671.3 L936,676.1 L934,673 L932,674.4 L930,674.3 L928,670.9 L926,670.9 L924,669.4 L922,670.5 L920,671.1 L918,668.2 L916,669.5 L914,670.3 L912,672.2 L910,672.8 L908,671.8 L906,669.3 L904,669.7 L902,670.3 L900,673.8 L898,670 L896,671.2 L894,671.5 L892,669 L890,670.4 L888,669.9 L886,667.7 L884,667.8 L882,666.2 L880,666.9 L878,665.3 L876,665.4 L874,668.5 L872,666.5 L870,666.1 L868,669.8 L866,668 L864,667.7 L862,668.6 L860,666.4 L858,666.1 L856,666.2 L854,667.9 L852,669.9 L850,669.8 L848,671.9 L846,670.5 L844,668.9 L842,671.9 L840,668.5 L838,672.1 L836,669.6 L834,671.2 L832,673 L830,671.3 L828,672.6 L826,674.8 L824,671 L822,672.6 L820,669.7 L818,669.9 L816,670.7 L814,665.5 L812,668.3 L810,665.9 L808,664.8 L806,665.4 L804,662.7 L802,664.5 L800,664.5 L798,663 L796,666.8 L794,664.3 L792,668.3 L790,667.8 L788,669.6 L786,666.3 L784,666.7 L782,666.2 L780,667.8 L778,668.9 L776,667.9 L774,667.9 L772,671.5 L770,669.7 L768,668.2 L766,671.6 L764,669.2 L762,672.4 L760,669 L758,672.1 L756,670.3 L754,669.1 L752,673.4 L750,672.9 L748,670 L746,673.8 L744,674.1 L742,672.1 L740,674.6 L738,671 L736,674.1 L734,674.4 L732,676.3 L730,676.3 L728,673.5 L726,678 L724,675.9 L722,677.2 L720,675.7 L718,678.5 L716,680.5 L714,680.9 L712,678.4 L710,680.8 L708,677.4 L706,679.2 L704,678.3 L702,676.1 L700,677.1 L698,675.2 L696,674.5 L694,675.7 L692,673.8 L690,674.6 L688,675.6 L686,674.9 L684,671.9 L682,672.5 L680,674.2 L678,672.3 L676,675.3 L674,676.3 L672,678.4 L670,678.2 L668,680 L666,680.2 L664,680.7 L662,683.2 L660,683.2 L658,683.9 L656,682 L654,685.8 L652,682.4 L650,686.2 L648,685.7 L646,683.6 L644,688.1 L642,687.7 L640,685.8 L638,685.6 L636,687.2 L634,688.3 L632,688.2 L630,687.7 L628,687.9 L626,691.5 L624,691.9 L622,690.2 L620,689.8 L618,692.9 L616,690.3 L614,693.9 L612,694 L610,697.4 L608,697 L606,701.6 L604,699.4 L602,702.3 L600,704.1 L598,703.5 L596,699.1 L594,698.9 L592,702.1 L590,700.8 L588,698.8 L586,696.5 L584,699.9 L582,698.8 L580,700 L578,701.6 L576,705.6 L574,707.2 L572,710.7 L570,710.4 L568,716.6 L566,716.1 L564,716.5 L562,714.7 L560,716.2 L558,718.4 L556,721.3 L554,719.8 L552,722.6 L550,721.5 L548,724.6 L546,721.3 L544,723.3 L542,726.8 L540,725.2 L538,727 L536,731.1 L534,731.4 L532,730.3 L530,731 L528,733.9 L526,735.6 L524,741.5 L522,741.3 L520,744 L518,747.5 L516,751.7 L514,752 L512,750.1 L510,751.2 L508,749.2 L506,747 L504,744.2 L502,742.6 L500,742.9 L498,741.9 L496,738 L494,736.4 L492,734.1 L490,733.3 L488,732.6 L486,734.1 L484,736.6 L482,739 L482,779.5 L452,779.5Z" fill="#0000ff"/>
<line x1="452.0" x2="2271" y1="646.5" y2="646.5" stroke="#ff0000" stroke-width="10.5"/>
<g fill="none" stroke="#000" stroke-width="9">
<path d="M1909.5,598.2 H1923 M1952,598.2 H1976.2 M2005.3,598.2 H2031.1 M2058.4,598.2 H2091.5 M2113.4,598.2 H2139.3 M2166.7,598.2 H2192.5 M2220,598.2 H2247.4 M1918.1,691 H1947.2 M1973,691 H2000.4 M2027.9,691 H2055.3 M2082.8,691 H2108.6 M2136,691 H2163.5 M2189.3,691 H2216.7 M2244.2,691 H2268.6"/>
<path d="M1913.8,596 V620 M1913.8,657 V693"/>
<path d="M2264,613.5 V645.5 M2265,684 V695.5" stroke-width="7.5"/>
</g>
<path d="M2088.3,602 V500" stroke="#000" stroke-width="8" fill="none"/>
<path d="M2088.5,476 L2101,518 L2088.5,508 L2076,518 Z" fill="#000"/>
<text transform="translate(428,83) scale(0.74,1)" font-size="96" font-weight="bold" fill="#262626" text-anchor="end" stroke="#262626" stroke-width="0.7" stroke-linejoin="round">1.5</text>
<text transform="translate(428,289.5) scale(0.74,1)" font-size="96" font-weight="bold" fill="#262626" text-anchor="end" stroke="#262626" stroke-width="0.7" stroke-linejoin="round">1.4</text>
<text transform="translate(428,503.5) scale(0.74,1)" font-size="96" font-weight="bold" fill="#262626" text-anchor="end" stroke="#262626" stroke-width="0.7" stroke-linejoin="round">1.3</text>
<text transform="translate(428,710) scale(0.74,1)" font-size="96" font-weight="bold" fill="#262626" text-anchor="end" stroke="#262626" stroke-width="0.7" stroke-linejoin="round">1.2</text>
<text transform="translate(452,894) scale(0.75,1)" font-size="96" font-weight="bold" fill="#262626" text-anchor="middle" stroke="#262626" stroke-width="0.8" stroke-linejoin="round">0</text>
<text transform="translate(814,894) scale(0.75,1)" font-size="96" font-weight="bold" fill="#262626" text-anchor="middle" stroke="#262626" stroke-width="0.8" stroke-linejoin="round">1</text>
<text transform="translate(1174.5,894) scale(0.75,1)" font-size="96" font-weight="bold" fill="#262626" text-anchor="middle" stroke="#262626" stroke-width="0.8" stroke-linejoin="round">2</text>
<text transform="translate(1541,894) scale(0.75,1)" font-size="96" font-weight="bold" fill="#262626" text-anchor="middle" stroke="#262626" stroke-width="0.8" stroke-linejoin="round">3</text>
<text transform="translate(1903,894) scale(0.75,1)" font-size="96" font-weight="bold" fill="#262626" text-anchor="middle" stroke="#262626" stroke-width="0.8" stroke-linejoin="round">4</text>
<text transform="translate(2266,894) scale(0.75,1)" font-size="96" font-weight="bold" fill="#262626" text-anchor="middle" stroke="#262626" stroke-width="0.8" stroke-linejoin="round">5</text>
<text transform="translate(1549.5,241.5) scale(0.75,1)" font-size="78" font-weight="bold" fill="#262626" text-anchor="end">1.22</text>
<text transform="translate(1549.5,363.5) scale(0.75,1)" font-size="78" font-weight="bold" fill="#262626" text-anchor="end">1.21</text>
<text transform="translate(1549.5,485) scale(0.75,1)" font-size="78" font-weight="bold" fill="#262626" text-anchor="end">1.2</text>
<text transform="translate(1572,572.5) scale(0.75,1)" font-size="78" font-weight="bold" fill="#262626" text-anchor="middle">4</text>
<text transform="translate(1902.5,572.5) scale(0.75,1)" font-size="78" font-weight="bold" fill="#262626" text-anchor="middle">4.5</text>
<text transform="translate(2233,572.5) scale(0.75,1)" font-size="78" font-weight="bold" fill="#262626" text-anchor="middle">5</text>
<text transform="translate(1194.5,1004) scale(0.737,1)" font-size="130" font-weight="bold" fill="#262626" text-anchor="start">Time (s)</text>
<text transform="translate(87.2,690.5) rotate(-90) scale(1,0.752)" font-size="126" font-weight="bold" fill="#262626">Rotor flux</text>
<text transform="translate(312.6,526) rotate(-90) scale(1,0.757)" font-size="126" font-weight="bold" fill="#262626">(Vs)</text>
</g>
</svg>
</body></html>
